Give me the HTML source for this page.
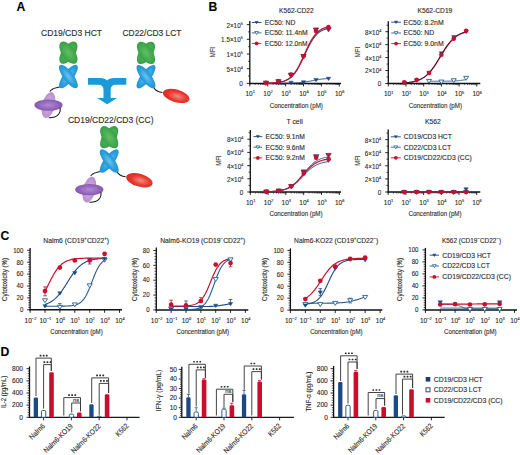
<!DOCTYPE html>
<html><head><meta charset="utf-8"><style>
html,body{margin:0;padding:0;background:#fff;width:520px;height:455px;overflow:hidden}
svg{display:block}
text{font-family:"Liberation Sans",sans-serif;stroke:#2b2b2b;stroke-width:0.12px}
</style></head><body>
<svg width="520" height="455" viewBox="0 0 520 455" font-family="&quot;Liberation Sans&quot;, sans-serif" fill="#2b2b2b">
<defs><radialGradient id="gG" cx="50%" cy="50%" r="60%"><stop offset="0" stop-color="#62bf62"/><stop offset="0.7" stop-color="#3fa64c"/><stop offset="1" stop-color="#2c8a3c"/></radialGradient><radialGradient id="gB" cx="50%" cy="50%" r="60%"><stop offset="0" stop-color="#6cc3ef"/><stop offset="0.6" stop-color="#2a9fdc"/><stop offset="1" stop-color="#1b8ccc"/></radialGradient><radialGradient id="gP" cx="50%" cy="50%" r="60%"><stop offset="0" stop-color="#b08bd0"/><stop offset="0.7" stop-color="#8c5fb6"/><stop offset="1" stop-color="#7a4ea6"/></radialGradient><radialGradient id="gP2" cx="50%" cy="50%" r="60%"><stop offset="0" stop-color="#d6b4e4"/><stop offset="1" stop-color="#b486cc"/></radialGradient><radialGradient id="gR" cx="55%" cy="50%" r="60%"><stop offset="0" stop-color="#f58a80"/><stop offset="0.6" stop-color="#e8352c"/><stop offset="1" stop-color="#d42a22"/></radialGradient></defs>
<rect width="520" height="455" fill="#fff"/>
<text x="16.40" y="11.00" font-size="12.2" fill="#000" font-weight="bold">A</text>
<text x="208.40" y="10.90" font-size="12.2" fill="#000" font-weight="bold">B</text>
<text x="0.50" y="239.60" font-size="12.2" fill="#000" font-weight="bold">C</text>
<text x="0.60" y="356.40" font-size="12.2" fill="#000" font-weight="bold">D</text>
<text x="71.50" y="36.00" font-size="8.4" text-anchor="middle" textLength="61.00" lengthAdjust="spacingAndGlyphs">CD19/CD3 HCT</text>
<text x="152.00" y="36.00" font-size="8.4" text-anchor="middle" textLength="59.00" lengthAdjust="spacingAndGlyphs">CD22/CD3 LCT</text>
<text x="110.70" y="122.60" font-size="8.4" text-anchor="middle" textLength="85.60" lengthAdjust="spacingAndGlyphs">CD19/CD22/CD3 (CC)</text>
<path d="M60.00,86.70 C56.40,88.30 52.40,87.50 49.90,91.50" stroke="#1a1a1a" stroke-width="1.05" fill="none" />
<ellipse cx="68.40" cy="52.70" rx="6.5" ry="12.8" fill="url(#gG)" transform="rotate(35 68.40 52.70)"/>
<ellipse cx="68.40" cy="52.70" rx="6.5" ry="12.8" fill="url(#gG)" transform="rotate(-35 68.40 52.70)"/>
<ellipse cx="68.40" cy="76.50" rx="5.0" ry="14.2" fill="url(#gB)" transform="rotate(37 68.40 76.50)"/>
<ellipse cx="68.40" cy="76.50" rx="5.0" ry="14.2" fill="url(#gB)" transform="rotate(-37 68.40 76.50)"/>
<ellipse cx="48.50" cy="105.10" rx="6.4" ry="13.2" fill="url(#gP2)" transform="rotate(14 48.50 105.10)"/>
<ellipse cx="48.50" cy="105.10" rx="14.1" ry="5.7" fill="url(#gP)"/>
<path d="M60.10,107.60 C61.00,113.10 57.50,118.10 48.70,117.70" stroke="#1a1a1a" stroke-width="1.05" fill="none" />
<path d="M153.60,87.30 C155.50,90.70 158.00,92.30 162.50,92.50" stroke="#1a1a1a" stroke-width="1.05" fill="none" />
<ellipse cx="146.00" cy="52.90" rx="6.5" ry="12.8" fill="url(#gG)" transform="rotate(35 146.00 52.90)"/>
<ellipse cx="146.00" cy="52.90" rx="6.5" ry="12.8" fill="url(#gG)" transform="rotate(-35 146.00 52.90)"/>
<ellipse cx="146.00" cy="76.70" rx="5.0" ry="14.2" fill="url(#gB)" transform="rotate(37 146.00 76.70)"/>
<ellipse cx="146.00" cy="76.70" rx="5.0" ry="14.2" fill="url(#gB)" transform="rotate(-37 146.00 76.70)"/>
<ellipse cx="176.20" cy="95.90" rx="13.6" ry="6.4" fill="url(#gR)" transform="rotate(16 176.20 95.90)"/>
<path d="M100.80,171.20 C97.20,172.80 93.20,172.00 90.70,176.00" stroke="#1a1a1a" stroke-width="1.05" fill="none" />
<path d="M116.80,171.60 C118.70,175.00 121.20,176.60 125.70,176.80" stroke="#1a1a1a" stroke-width="1.05" fill="none" />
<ellipse cx="109.20" cy="137.20" rx="6.5" ry="12.8" fill="url(#gG)" transform="rotate(35 109.20 137.20)"/>
<ellipse cx="109.20" cy="137.20" rx="6.5" ry="12.8" fill="url(#gG)" transform="rotate(-35 109.20 137.20)"/>
<ellipse cx="109.20" cy="161.00" rx="5.0" ry="14.2" fill="url(#gB)" transform="rotate(37 109.20 161.00)"/>
<ellipse cx="109.20" cy="161.00" rx="5.0" ry="14.2" fill="url(#gB)" transform="rotate(-37 109.20 161.00)"/>
<ellipse cx="89.30" cy="189.60" rx="6.4" ry="13.2" fill="url(#gP2)" transform="rotate(14 89.30 189.60)"/>
<ellipse cx="89.30" cy="189.60" rx="14.1" ry="5.7" fill="url(#gP)"/>
<path d="M100.90,192.10 C101.80,197.60 98.30,202.60 89.50,202.20" stroke="#1a1a1a" stroke-width="1.05" fill="none" />
<ellipse cx="139.40" cy="180.20" rx="13.6" ry="6.4" fill="url(#gR)" transform="rotate(16 139.40 180.20)"/>
<path d="M88,77.9 L100,77.9 C103.5,77.9 106,78.8 107.1,80.6 C108.2,78.8 110.7,77.9 114.2,77.9 L126.3,77.9 L126.3,84.7 L116,84.7 C112.5,84.7 110.7,86.5 110.7,90 L110.7,98 L117.1,98 L107.1,104.3 L97.1,98 L103.5,98 L103.5,90 C103.5,86.5 101.7,84.7 98.2,84.7 L88,84.7 Z" stroke="none" stroke-width="0" fill="#1a9ad6" />
<line x1="249.80" y1="21.00" x2="249.80" y2="83.90" stroke="#111" stroke-width="1.3"/>
<line x1="249.20" y1="83.40" x2="341.00" y2="83.40" stroke="#111" stroke-width="1.5"/>
<line x1="246.80" y1="83.40" x2="249.80" y2="83.40" stroke="#111" stroke-width="0.9"/>
<line x1="246.80" y1="68.70" x2="249.80" y2="68.70" stroke="#111" stroke-width="0.9"/>
<line x1="246.80" y1="54.00" x2="249.80" y2="54.00" stroke="#111" stroke-width="0.9"/>
<line x1="246.80" y1="39.30" x2="249.80" y2="39.30" stroke="#111" stroke-width="0.9"/>
<line x1="246.80" y1="24.60" x2="249.80" y2="24.60" stroke="#111" stroke-width="0.9"/>
<line x1="248.00" y1="76.05" x2="249.80" y2="76.05" stroke="#111" stroke-width="0.7"/>
<line x1="248.00" y1="61.35" x2="249.80" y2="61.35" stroke="#111" stroke-width="0.7"/>
<line x1="248.00" y1="46.65" x2="249.80" y2="46.65" stroke="#111" stroke-width="0.7"/>
<line x1="248.00" y1="31.95" x2="249.80" y2="31.95" stroke="#111" stroke-width="0.7"/>
<line x1="249.80" y1="83.40" x2="249.80" y2="86.40" stroke="#111" stroke-width="0.9"/>
<line x1="255.19" y1="83.40" x2="255.19" y2="85.00" stroke="#111" stroke-width="0.6"/>
<line x1="258.34" y1="83.40" x2="258.34" y2="85.00" stroke="#111" stroke-width="0.6"/>
<line x1="260.58" y1="83.40" x2="260.58" y2="85.00" stroke="#111" stroke-width="0.6"/>
<line x1="262.31" y1="83.40" x2="262.31" y2="85.00" stroke="#111" stroke-width="0.6"/>
<line x1="263.73" y1="83.40" x2="263.73" y2="85.00" stroke="#111" stroke-width="0.6"/>
<line x1="264.93" y1="83.40" x2="264.93" y2="85.00" stroke="#111" stroke-width="0.6"/>
<line x1="265.97" y1="83.40" x2="265.97" y2="85.00" stroke="#111" stroke-width="0.6"/>
<line x1="266.88" y1="83.40" x2="266.88" y2="85.00" stroke="#111" stroke-width="0.6"/>
<line x1="267.70" y1="83.40" x2="267.70" y2="86.40" stroke="#111" stroke-width="0.9"/>
<line x1="273.09" y1="83.40" x2="273.09" y2="85.00" stroke="#111" stroke-width="0.6"/>
<line x1="276.24" y1="83.40" x2="276.24" y2="85.00" stroke="#111" stroke-width="0.6"/>
<line x1="278.48" y1="83.40" x2="278.48" y2="85.00" stroke="#111" stroke-width="0.6"/>
<line x1="280.21" y1="83.40" x2="280.21" y2="85.00" stroke="#111" stroke-width="0.6"/>
<line x1="281.63" y1="83.40" x2="281.63" y2="85.00" stroke="#111" stroke-width="0.6"/>
<line x1="282.83" y1="83.40" x2="282.83" y2="85.00" stroke="#111" stroke-width="0.6"/>
<line x1="283.87" y1="83.40" x2="283.87" y2="85.00" stroke="#111" stroke-width="0.6"/>
<line x1="284.78" y1="83.40" x2="284.78" y2="85.00" stroke="#111" stroke-width="0.6"/>
<line x1="285.60" y1="83.40" x2="285.60" y2="86.40" stroke="#111" stroke-width="0.9"/>
<line x1="290.99" y1="83.40" x2="290.99" y2="85.00" stroke="#111" stroke-width="0.6"/>
<line x1="294.14" y1="83.40" x2="294.14" y2="85.00" stroke="#111" stroke-width="0.6"/>
<line x1="296.38" y1="83.40" x2="296.38" y2="85.00" stroke="#111" stroke-width="0.6"/>
<line x1="298.11" y1="83.40" x2="298.11" y2="85.00" stroke="#111" stroke-width="0.6"/>
<line x1="299.53" y1="83.40" x2="299.53" y2="85.00" stroke="#111" stroke-width="0.6"/>
<line x1="300.73" y1="83.40" x2="300.73" y2="85.00" stroke="#111" stroke-width="0.6"/>
<line x1="301.77" y1="83.40" x2="301.77" y2="85.00" stroke="#111" stroke-width="0.6"/>
<line x1="302.68" y1="83.40" x2="302.68" y2="85.00" stroke="#111" stroke-width="0.6"/>
<line x1="303.50" y1="83.40" x2="303.50" y2="86.40" stroke="#111" stroke-width="0.9"/>
<line x1="308.89" y1="83.40" x2="308.89" y2="85.00" stroke="#111" stroke-width="0.6"/>
<line x1="312.04" y1="83.40" x2="312.04" y2="85.00" stroke="#111" stroke-width="0.6"/>
<line x1="314.28" y1="83.40" x2="314.28" y2="85.00" stroke="#111" stroke-width="0.6"/>
<line x1="316.01" y1="83.40" x2="316.01" y2="85.00" stroke="#111" stroke-width="0.6"/>
<line x1="317.43" y1="83.40" x2="317.43" y2="85.00" stroke="#111" stroke-width="0.6"/>
<line x1="318.63" y1="83.40" x2="318.63" y2="85.00" stroke="#111" stroke-width="0.6"/>
<line x1="319.67" y1="83.40" x2="319.67" y2="85.00" stroke="#111" stroke-width="0.6"/>
<line x1="320.58" y1="83.40" x2="320.58" y2="85.00" stroke="#111" stroke-width="0.6"/>
<line x1="321.40" y1="83.40" x2="321.40" y2="86.40" stroke="#111" stroke-width="0.9"/>
<line x1="326.79" y1="83.40" x2="326.79" y2="85.00" stroke="#111" stroke-width="0.6"/>
<line x1="329.94" y1="83.40" x2="329.94" y2="85.00" stroke="#111" stroke-width="0.6"/>
<line x1="332.18" y1="83.40" x2="332.18" y2="85.00" stroke="#111" stroke-width="0.6"/>
<line x1="333.91" y1="83.40" x2="333.91" y2="85.00" stroke="#111" stroke-width="0.6"/>
<line x1="335.33" y1="83.40" x2="335.33" y2="85.00" stroke="#111" stroke-width="0.6"/>
<line x1="336.53" y1="83.40" x2="336.53" y2="85.00" stroke="#111" stroke-width="0.6"/>
<line x1="337.57" y1="83.40" x2="337.57" y2="85.00" stroke="#111" stroke-width="0.6"/>
<line x1="338.48" y1="83.40" x2="338.48" y2="85.00" stroke="#111" stroke-width="0.6"/>
<line x1="339.30" y1="83.40" x2="339.30" y2="86.40" stroke="#111" stroke-width="0.9"/>
<text x="296.40" y="12.80" font-size="6.8" text-anchor="middle" textLength="34.60" lengthAdjust="spacingAndGlyphs">K562-CD22</text>
<text transform="translate(214.80 52.20) rotate(-90)" font-size="7.2" text-anchor="middle" textLength="10.30" lengthAdjust="spacingAndGlyphs">MFI</text>
<text transform="translate(242.80 86.30) scale(0.87 1)" font-size="7.3" text-anchor="end">0</text>
<text transform="translate(242.80 71.60) scale(0.87 1)" font-size="7.3" text-anchor="end">5×10<tspan font-size="4.40" dy="-2.90">4</tspan></text>
<text transform="translate(242.80 56.90) scale(0.87 1)" font-size="7.3" text-anchor="end">1×10<tspan font-size="4.40" dy="-2.90">5</tspan></text>
<text transform="translate(242.80 42.20) scale(0.87 1)" font-size="7.3" text-anchor="end">1.5×10<tspan font-size="4.40" dy="-2.90">5</tspan></text>
<text transform="translate(242.80 27.50) scale(0.87 1)" font-size="7.3" text-anchor="end">2×10<tspan font-size="4.40" dy="-2.90">5</tspan></text>
<text transform="translate(250.20 96.00) scale(0.93 1)" font-size="7.0" text-anchor="middle">10<tspan font-size="4.30" dy="-2.60">1</tspan></text>
<text transform="translate(268.10 96.00) scale(0.93 1)" font-size="7.0" text-anchor="middle">10<tspan font-size="4.30" dy="-2.60">2</tspan></text>
<text transform="translate(286.00 96.00) scale(0.93 1)" font-size="7.0" text-anchor="middle">10<tspan font-size="4.30" dy="-2.60">3</tspan></text>
<text transform="translate(303.90 96.00) scale(0.93 1)" font-size="7.0" text-anchor="middle">10<tspan font-size="4.30" dy="-2.60">4</tspan></text>
<text transform="translate(321.80 96.00) scale(0.93 1)" font-size="7.0" text-anchor="middle">10<tspan font-size="4.30" dy="-2.60">5</tspan></text>
<text transform="translate(339.70 96.00) scale(0.93 1)" font-size="7.0" text-anchor="middle">10<tspan font-size="4.30" dy="-2.60">6</tspan></text>
<text x="296.30" y="107.80" font-size="7.7" text-anchor="middle" textLength="53.20" lengthAdjust="spacingAndGlyphs">Concentration (pM)</text>
<polyline points="278.48,83.23 279.10,83.22 279.73,83.22 280.35,83.22 280.98,83.21 281.60,83.21 282.23,83.20 282.86,83.20 283.48,83.19 284.11,83.19 284.73,83.18 285.36,83.18 285.98,83.17 286.61,83.16 287.23,83.15 287.86,83.14 288.49,83.13 289.11,83.12 289.74,83.10 290.36,83.09 290.99,83.07 291.61,83.05 292.24,83.04 292.86,83.01 293.49,82.99 294.12,82.97 294.74,82.94 295.37,82.91 295.99,82.88 296.62,82.84 297.24,82.80 297.87,82.76 298.50,82.72 299.12,82.67 299.75,82.62 300.37,82.56 301.00,82.50 301.62,82.44 302.25,82.37 302.87,82.30 303.50,82.22 304.13,82.14 304.75,82.05 305.38,81.96 306.00,81.86 306.63,81.76 307.25,81.66 307.88,81.55 308.50,81.44 309.13,81.33 309.76,81.21 310.38,81.09 311.01,80.97 311.63,80.84 312.26,80.72 312.88,80.59 313.51,80.47 314.14,80.35 314.76,80.23 315.39,80.11 316.01,79.99 316.64,79.88 317.26,79.77 317.89,79.66 318.51,79.56 319.14,79.46 319.77,79.36 320.39,79.28 321.02,79.19 321.64,79.11 322.27,79.03 322.89,78.96 323.52,78.90 324.14,78.83 324.77,78.78 325.40,78.72 326.02,78.67 326.65,78.63 327.27,78.58 327.90,78.54 328.52,78.51" fill="none" stroke="#1b4a86" stroke-width="1.0" stroke-linejoin="round"/>
<polyline points="265.96,83.25 266.75,83.24 267.53,83.22 268.31,83.19 269.09,83.16 269.87,83.13 270.66,83.10 271.44,83.06 272.22,83.02 273.00,82.97 273.78,82.92 274.57,82.86 275.35,82.79 276.13,82.71 276.91,82.62 277.69,82.52 278.48,82.41 279.26,82.29 280.04,82.15 280.82,81.99 281.60,81.82 282.39,81.62 283.17,81.40 283.95,81.15 284.73,80.88 285.51,80.57 286.30,80.23 287.08,79.85 287.86,79.42 288.64,78.95 289.42,78.43 290.21,77.86 290.99,77.23 291.77,76.53 292.55,75.77 293.33,74.94 294.12,74.03 294.90,73.05 295.68,71.99 296.46,70.85 297.24,69.63 298.03,68.34 298.81,66.97 299.59,65.53 300.37,64.02 301.15,62.46 301.94,60.84 302.72,59.19 303.50,57.51 304.28,55.81 305.06,54.11 305.85,52.41 306.63,50.74 307.41,49.09 308.19,47.49 308.97,45.94 309.76,44.45 310.54,43.03 311.32,41.68 312.10,40.40 312.88,39.21 313.67,38.09 314.45,37.05 315.23,36.09 316.01,35.20 316.79,34.38 317.58,33.64 318.36,32.96 319.14,32.34 319.92,31.78 320.70,31.27 321.49,30.82 322.27,30.40 323.05,30.03 323.83,29.70 324.61,29.40 325.40,29.13 326.18,28.89 326.96,28.68 327.74,28.49 328.52,28.32" fill="none" stroke="#265d92" stroke-width="1.1" stroke-linejoin="round"/>
<polyline points="265.96,83.25 266.75,83.23 267.53,83.21 268.31,83.18 269.09,83.15 269.87,83.12 270.66,83.08 271.44,83.04 272.22,83.00 273.00,82.95 273.78,82.89 274.57,82.83 275.35,82.75 276.13,82.67 276.91,82.58 277.69,82.48 278.48,82.36 279.26,82.23 280.04,82.08 280.82,81.92 281.60,81.73 282.39,81.52 283.17,81.29 283.95,81.03 284.73,80.74 285.51,80.42 286.30,80.06 287.08,79.66 287.86,79.21 288.64,78.72 289.42,78.17 290.21,77.57 290.99,76.91 291.77,76.18 292.55,75.38 293.33,74.51 294.12,73.56 294.90,72.54 295.68,71.43 296.46,70.24 297.24,68.98 298.03,67.63 298.81,66.21 299.59,64.71 300.37,63.15 301.15,61.54 301.94,59.87 302.72,58.17 303.50,56.44 304.28,54.69 305.06,52.95 305.85,51.21 306.63,49.50 307.41,47.82 308.19,46.19 308.97,44.61 309.76,43.10 310.54,41.65 311.32,40.29 312.10,39.00 312.88,37.78 313.67,36.66 314.45,35.61 315.23,34.64 316.01,33.75 316.79,32.93 317.58,32.18 318.36,31.50 319.14,30.88 319.92,30.31 320.70,29.80 321.49,29.35 322.27,28.93 323.05,28.56 323.83,28.23 324.61,27.93 325.40,27.66 326.18,27.42 326.96,27.21 327.74,27.02 328.52,26.85" fill="none" stroke="#c8102e" stroke-width="1.3" stroke-linejoin="round"/>
<path d="M276.28,81.79 L280.68,81.79 L278.48,85.20 Z" fill="#1b4a86" stroke="#1b4a86" stroke-width="0.5" stroke-linejoin="round"/>
<path d="M288.79,81.20 L293.19,81.20 L290.99,84.61 Z" fill="#1b4a86" stroke="#1b4a86" stroke-width="0.5" stroke-linejoin="round"/>
<path d="M301.30,80.79 L305.70,80.79 L303.50,84.20 Z" fill="#1b4a86" stroke="#1b4a86" stroke-width="0.5" stroke-linejoin="round"/>
<path d="M313.81,78.38 L318.21,78.38 L316.01,81.79 Z" fill="#1b4a86" stroke="#1b4a86" stroke-width="0.5" stroke-linejoin="round"/>
<path d="M326.32,77.17 L330.72,77.17 L328.52,80.58 Z" fill="#1b4a86" stroke="#1b4a86" stroke-width="0.5" stroke-linejoin="round"/>
<path d="M263.26,81.19 L268.66,81.19 L265.96,85.38 Z" fill="#c8102e" stroke="#3a3f6a" stroke-width="0.8" stroke-linejoin="round"/>
<path d="M275.78,79.72 L281.18,79.72 L278.48,83.91 Z" fill="#c8102e" stroke="#3a3f6a" stroke-width="0.8" stroke-linejoin="round"/>
<path d="M288.29,73.25 L293.69,73.25 L290.99,77.44 Z" fill="#c8102e" stroke="#3a3f6a" stroke-width="0.8" stroke-linejoin="round"/>
<path d="M300.80,54.44 L306.20,54.44 L303.50,58.62 Z" fill="#c8102e" stroke="#3a3f6a" stroke-width="0.8" stroke-linejoin="round"/>
<path d="M313.31,27.98 L318.71,27.98 L316.01,32.16 Z" fill="#c8102e" stroke="#3a3f6a" stroke-width="0.8" stroke-linejoin="round"/>
<path d="M325.82,27.68 L331.22,27.68 L328.52,31.87 Z" fill="#c8102e" stroke="#3a3f6a" stroke-width="0.8" stroke-linejoin="round"/>
<circle cx="265.96" cy="82.81" r="2.3" fill="#c8102e"/>
<circle cx="278.48" cy="81.05" r="2.3" fill="#c8102e"/>
<circle cx="290.99" cy="74.58" r="2.3" fill="#c8102e"/>
<circle cx="303.50" cy="56.35" r="2.3" fill="#c8102e"/>
<circle cx="316.01" cy="31.07" r="2.3" fill="#c8102e"/>
<circle cx="328.52" cy="26.95" r="2.3" fill="#c8102e"/>
<line x1="251.80" y1="22.50" x2="261.40" y2="22.50" stroke="#1b4a86" stroke-width="0.9"/>
<path d="M255.00,21.34 L258.20,21.34 L256.60,23.82 Z" fill="#1b4a86" stroke="#1b4a86" stroke-width="0.5" stroke-linejoin="round"/>
<text x="264.80" y="24.85" font-size="6.7" textLength="30.50" lengthAdjust="spacingAndGlyphs">EC50: ND</text>
<line x1="251.80" y1="32.90" x2="261.40" y2="32.90" stroke="#265d92" stroke-width="0.9"/>
<path d="M254.70,31.56 L258.50,31.56 L256.60,34.50 Z" fill="#fff" stroke="#265d92" stroke-width="0.8" stroke-linejoin="round"/>
<text x="264.80" y="35.25" font-size="6.7" textLength="43.00" lengthAdjust="spacingAndGlyphs">EC50: 11.4nM</text>
<line x1="251.80" y1="43.40" x2="261.40" y2="43.40" stroke="#c8102e" stroke-width="0.9"/>
<circle cx="256.60" cy="43.40" r="1.9" fill="#c8102e"/>
<text x="264.80" y="45.75" font-size="6.7" textLength="42.70" lengthAdjust="spacingAndGlyphs">EC50: 12.0nM</text>
<line x1="388.30" y1="21.20" x2="388.30" y2="84.00" stroke="#111" stroke-width="1.3"/>
<line x1="387.70" y1="83.50" x2="480.30" y2="83.50" stroke="#111" stroke-width="1.5"/>
<line x1="385.30" y1="83.50" x2="388.30" y2="83.50" stroke="#111" stroke-width="0.9"/>
<line x1="385.30" y1="70.55" x2="388.30" y2="70.55" stroke="#111" stroke-width="0.9"/>
<line x1="385.30" y1="57.60" x2="388.30" y2="57.60" stroke="#111" stroke-width="0.9"/>
<line x1="385.30" y1="44.65" x2="388.30" y2="44.65" stroke="#111" stroke-width="0.9"/>
<line x1="385.30" y1="31.70" x2="388.30" y2="31.70" stroke="#111" stroke-width="0.9"/>
<line x1="386.50" y1="77.03" x2="388.30" y2="77.03" stroke="#111" stroke-width="0.7"/>
<line x1="386.50" y1="64.08" x2="388.30" y2="64.08" stroke="#111" stroke-width="0.7"/>
<line x1="386.50" y1="51.12" x2="388.30" y2="51.12" stroke="#111" stroke-width="0.7"/>
<line x1="386.50" y1="38.18" x2="388.30" y2="38.18" stroke="#111" stroke-width="0.7"/>
<line x1="386.50" y1="25.23" x2="388.30" y2="25.23" stroke="#111" stroke-width="0.7"/>
<line x1="388.30" y1="83.50" x2="388.30" y2="86.50" stroke="#111" stroke-width="0.9"/>
<line x1="393.63" y1="83.50" x2="393.63" y2="85.10" stroke="#111" stroke-width="0.6"/>
<line x1="396.75" y1="83.50" x2="396.75" y2="85.10" stroke="#111" stroke-width="0.6"/>
<line x1="398.96" y1="83.50" x2="398.96" y2="85.10" stroke="#111" stroke-width="0.6"/>
<line x1="400.67" y1="83.50" x2="400.67" y2="85.10" stroke="#111" stroke-width="0.6"/>
<line x1="402.07" y1="83.50" x2="402.07" y2="85.10" stroke="#111" stroke-width="0.6"/>
<line x1="403.26" y1="83.50" x2="403.26" y2="85.10" stroke="#111" stroke-width="0.6"/>
<line x1="404.28" y1="83.50" x2="404.28" y2="85.10" stroke="#111" stroke-width="0.6"/>
<line x1="405.19" y1="83.50" x2="405.19" y2="85.10" stroke="#111" stroke-width="0.6"/>
<line x1="406.00" y1="83.50" x2="406.00" y2="86.50" stroke="#111" stroke-width="0.9"/>
<line x1="411.33" y1="83.50" x2="411.33" y2="85.10" stroke="#111" stroke-width="0.6"/>
<line x1="414.45" y1="83.50" x2="414.45" y2="85.10" stroke="#111" stroke-width="0.6"/>
<line x1="416.66" y1="83.50" x2="416.66" y2="85.10" stroke="#111" stroke-width="0.6"/>
<line x1="418.37" y1="83.50" x2="418.37" y2="85.10" stroke="#111" stroke-width="0.6"/>
<line x1="419.77" y1="83.50" x2="419.77" y2="85.10" stroke="#111" stroke-width="0.6"/>
<line x1="420.96" y1="83.50" x2="420.96" y2="85.10" stroke="#111" stroke-width="0.6"/>
<line x1="421.98" y1="83.50" x2="421.98" y2="85.10" stroke="#111" stroke-width="0.6"/>
<line x1="422.89" y1="83.50" x2="422.89" y2="85.10" stroke="#111" stroke-width="0.6"/>
<line x1="423.70" y1="83.50" x2="423.70" y2="86.50" stroke="#111" stroke-width="0.9"/>
<line x1="429.03" y1="83.50" x2="429.03" y2="85.10" stroke="#111" stroke-width="0.6"/>
<line x1="432.15" y1="83.50" x2="432.15" y2="85.10" stroke="#111" stroke-width="0.6"/>
<line x1="434.36" y1="83.50" x2="434.36" y2="85.10" stroke="#111" stroke-width="0.6"/>
<line x1="436.07" y1="83.50" x2="436.07" y2="85.10" stroke="#111" stroke-width="0.6"/>
<line x1="437.47" y1="83.50" x2="437.47" y2="85.10" stroke="#111" stroke-width="0.6"/>
<line x1="438.66" y1="83.50" x2="438.66" y2="85.10" stroke="#111" stroke-width="0.6"/>
<line x1="439.68" y1="83.50" x2="439.68" y2="85.10" stroke="#111" stroke-width="0.6"/>
<line x1="440.59" y1="83.50" x2="440.59" y2="85.10" stroke="#111" stroke-width="0.6"/>
<line x1="441.40" y1="83.50" x2="441.40" y2="86.50" stroke="#111" stroke-width="0.9"/>
<line x1="446.73" y1="83.50" x2="446.73" y2="85.10" stroke="#111" stroke-width="0.6"/>
<line x1="449.85" y1="83.50" x2="449.85" y2="85.10" stroke="#111" stroke-width="0.6"/>
<line x1="452.06" y1="83.50" x2="452.06" y2="85.10" stroke="#111" stroke-width="0.6"/>
<line x1="453.77" y1="83.50" x2="453.77" y2="85.10" stroke="#111" stroke-width="0.6"/>
<line x1="455.17" y1="83.50" x2="455.17" y2="85.10" stroke="#111" stroke-width="0.6"/>
<line x1="456.36" y1="83.50" x2="456.36" y2="85.10" stroke="#111" stroke-width="0.6"/>
<line x1="457.38" y1="83.50" x2="457.38" y2="85.10" stroke="#111" stroke-width="0.6"/>
<line x1="458.29" y1="83.50" x2="458.29" y2="85.10" stroke="#111" stroke-width="0.6"/>
<line x1="459.10" y1="83.50" x2="459.10" y2="86.50" stroke="#111" stroke-width="0.9"/>
<line x1="464.43" y1="83.50" x2="464.43" y2="85.10" stroke="#111" stroke-width="0.6"/>
<line x1="467.55" y1="83.50" x2="467.55" y2="85.10" stroke="#111" stroke-width="0.6"/>
<line x1="469.76" y1="83.50" x2="469.76" y2="85.10" stroke="#111" stroke-width="0.6"/>
<line x1="471.47" y1="83.50" x2="471.47" y2="85.10" stroke="#111" stroke-width="0.6"/>
<line x1="472.87" y1="83.50" x2="472.87" y2="85.10" stroke="#111" stroke-width="0.6"/>
<line x1="474.06" y1="83.50" x2="474.06" y2="85.10" stroke="#111" stroke-width="0.6"/>
<line x1="475.08" y1="83.50" x2="475.08" y2="85.10" stroke="#111" stroke-width="0.6"/>
<line x1="475.99" y1="83.50" x2="475.99" y2="85.10" stroke="#111" stroke-width="0.6"/>
<line x1="476.80" y1="83.50" x2="476.80" y2="86.50" stroke="#111" stroke-width="0.9"/>
<text x="434.90" y="12.80" font-size="6.8" text-anchor="middle" textLength="34.80" lengthAdjust="spacingAndGlyphs">K562-CD19</text>
<text transform="translate(359.50 52.00) rotate(-90)" font-size="7.2" text-anchor="middle" textLength="10.30" lengthAdjust="spacingAndGlyphs">MFI</text>
<text transform="translate(381.30 86.40) scale(0.87 1)" font-size="7.3" text-anchor="end">0</text>
<text transform="translate(381.30 73.45) scale(0.87 1)" font-size="7.3" text-anchor="end">2×10<tspan font-size="4.40" dy="-2.90">4</tspan></text>
<text transform="translate(381.30 60.50) scale(0.87 1)" font-size="7.3" text-anchor="end">4×10<tspan font-size="4.40" dy="-2.90">4</tspan></text>
<text transform="translate(381.30 47.55) scale(0.87 1)" font-size="7.3" text-anchor="end">6×10<tspan font-size="4.40" dy="-2.90">4</tspan></text>
<text transform="translate(381.30 34.60) scale(0.87 1)" font-size="7.3" text-anchor="end">8×10<tspan font-size="4.40" dy="-2.90">4</tspan></text>
<text transform="translate(388.70 96.10) scale(0.93 1)" font-size="7.0" text-anchor="middle">10<tspan font-size="4.30" dy="-2.60">1</tspan></text>
<text transform="translate(406.40 96.10) scale(0.93 1)" font-size="7.0" text-anchor="middle">10<tspan font-size="4.30" dy="-2.60">2</tspan></text>
<text transform="translate(424.10 96.10) scale(0.93 1)" font-size="7.0" text-anchor="middle">10<tspan font-size="4.30" dy="-2.60">3</tspan></text>
<text transform="translate(441.80 96.10) scale(0.93 1)" font-size="7.0" text-anchor="middle">10<tspan font-size="4.30" dy="-2.60">4</tspan></text>
<text transform="translate(459.50 96.10) scale(0.93 1)" font-size="7.0" text-anchor="middle">10<tspan font-size="4.30" dy="-2.60">5</tspan></text>
<text transform="translate(477.20 96.10) scale(0.93 1)" font-size="7.0" text-anchor="middle">10<tspan font-size="4.30" dy="-2.60">6</tspan></text>
<text x="435.40" y="107.90" font-size="7.7" text-anchor="middle" textLength="53.20" lengthAdjust="spacingAndGlyphs">Concentration (pM)</text>
<polyline points="429.03,81.23 429.49,81.23 429.96,81.23 430.42,81.23 430.88,81.23 431.35,81.23 431.81,81.23 432.28,81.23 432.74,81.23 433.20,81.23 433.67,81.23 434.13,81.23 434.60,81.23 435.06,81.23 435.52,81.23 435.99,81.22 436.45,81.22 436.92,81.22 437.38,81.22 437.84,81.22 438.31,81.22 438.77,81.22 439.23,81.22 439.70,81.22 440.16,81.21 440.63,81.21 441.09,81.21 441.55,81.21 442.02,81.20 442.48,81.20 442.95,81.20 443.41,81.20 443.87,81.19 444.34,81.19 444.80,81.18 445.27,81.18 445.73,81.17 446.19,81.17 446.66,81.16 447.12,81.16 447.59,81.15 448.05,81.14 448.51,81.13 448.98,81.12 449.44,81.11 449.91,81.10 450.37,81.09 450.83,81.08 451.30,81.07 451.76,81.05 452.23,81.03 452.69,81.02 453.15,81.00 453.62,80.98 454.08,80.95 454.55,80.93 455.01,80.90 455.47,80.88 455.94,80.85 456.40,80.82 456.87,80.78 457.33,80.75 457.79,80.71 458.26,80.67 458.72,80.62 459.19,80.58 459.65,80.53 460.11,80.48 460.58,80.42 461.04,80.36 461.50,80.31 461.97,80.25 462.43,80.18 462.90,80.12 463.36,80.05 463.82,79.98 464.29,79.91 464.75,79.84 465.22,79.77 465.68,79.69 466.14,79.62" fill="none" stroke="#265d92" stroke-width="1.0" stroke-linejoin="round"/>
<polyline points="404.28,82.90 405.06,82.84 405.83,82.77 406.60,82.70 407.38,82.62 408.15,82.53 408.92,82.44 409.70,82.33 410.47,82.22 411.24,82.09 412.02,81.96 412.79,81.81 413.56,81.64 414.34,81.47 415.11,81.27 415.88,81.06 416.66,80.82 417.43,80.57 418.20,80.29 418.98,79.99 419.75,79.67 420.52,79.31 421.30,78.93 422.07,78.51 422.84,78.06 423.61,77.58 424.39,77.05 425.16,76.49 425.93,75.89 426.71,75.24 427.48,74.55 428.25,73.82 429.03,73.04 429.80,72.21 430.57,71.33 431.35,70.41 432.12,69.44 432.89,68.42 433.67,67.37 434.44,66.27 435.21,65.13 435.99,63.96 436.76,62.75 437.53,61.52 438.31,60.27 439.08,59.00 439.85,57.73 440.63,56.44 441.40,55.16 442.17,53.88 442.95,52.62 443.72,51.38 444.49,50.15 445.27,48.96 446.04,47.80 446.81,46.67 447.59,45.58 448.36,44.54 449.13,43.53 449.91,42.58 450.68,41.67 451.45,40.81 452.23,39.99 453.00,39.22 453.77,38.50 454.55,37.82 455.32,37.19 456.09,36.60 456.87,36.05 457.64,35.54 458.41,35.06 459.19,34.62 459.96,34.22 460.73,33.84 461.50,33.49 462.28,33.17 463.05,32.88 463.82,32.61 464.60,32.36 465.37,32.14 466.14,31.93" fill="none" stroke="#c8102e" stroke-width="1.2" stroke-linejoin="round"/>
<polyline points="404.28,82.92 405.06,82.86 405.83,82.79 406.60,82.72 407.38,82.64 408.15,82.56 408.92,82.46 409.70,82.36 410.47,82.24 411.24,82.12 412.02,81.98 412.79,81.83 413.56,81.66 414.34,81.48 415.11,81.28 415.88,81.06 416.66,80.83 417.43,80.57 418.20,80.29 418.98,79.98 419.75,79.64 420.52,79.28 421.30,78.88 422.07,78.46 422.84,77.99 423.61,77.49 424.39,76.95 425.16,76.37 425.93,75.74 426.71,75.07 427.48,74.36 428.25,73.60 429.03,72.78 429.80,71.92 430.57,71.01 431.35,70.06 432.12,69.05 432.89,68.00 433.67,66.91 434.44,65.77 435.21,64.59 435.99,63.39 436.76,62.15 437.53,60.89 438.31,59.61 439.08,58.31 439.85,57.01 440.63,55.71 441.40,54.41 442.17,53.12 442.95,51.86 443.72,50.61 444.49,49.39 445.27,48.20 446.04,47.05 446.81,45.95 447.59,44.88 448.36,43.86 449.13,42.88 449.91,41.96 450.68,41.08 451.45,40.25 452.23,39.47 453.00,38.74 453.77,38.06 454.55,37.42 455.32,36.82 456.09,36.27 456.87,35.75 457.64,35.28 458.41,34.84 459.19,34.43 459.96,34.06 460.73,33.71 461.50,33.40 462.28,33.11 463.05,32.84 463.82,32.59 464.60,32.37 465.37,32.17 466.14,31.98" fill="none" stroke="#2a1630" stroke-width="1.0" stroke-linejoin="round"/>
<path d="M426.53,79.41 L431.53,79.41 L429.03,83.28 Z" fill="#fff" stroke="#265d92" stroke-width="0.9" stroke-linejoin="round"/>
<path d="M438.90,80.06 L443.90,80.06 L441.40,83.93 Z" fill="#fff" stroke="#265d92" stroke-width="0.9" stroke-linejoin="round"/>
<path d="M451.27,78.76 L456.27,78.76 L453.77,82.64 Z" fill="#fff" stroke="#265d92" stroke-width="0.9" stroke-linejoin="round"/>
<path d="M463.64,76.37 L468.64,76.37 L466.14,80.24 Z" fill="#fff" stroke="#265d92" stroke-width="0.9" stroke-linejoin="round"/>
<path d="M402.08,81.53 L406.48,81.53 L404.28,84.94 Z" fill="#1b4a86" stroke="#1b4a86" stroke-width="0.5" stroke-linejoin="round"/>
<path d="M414.46,78.94 L418.86,78.94 L416.66,82.35 Z" fill="#1b4a86" stroke="#1b4a86" stroke-width="0.5" stroke-linejoin="round"/>
<path d="M426.83,71.17 L431.23,71.17 L429.03,74.58 Z" fill="#1b4a86" stroke="#1b4a86" stroke-width="0.5" stroke-linejoin="round"/>
<path d="M439.20,51.75 L443.60,51.75 L441.40,55.16 Z" fill="#1b4a86" stroke="#1b4a86" stroke-width="0.5" stroke-linejoin="round"/>
<path d="M451.57,35.56 L455.97,35.56 L453.77,38.97 Z" fill="#1b4a86" stroke="#1b4a86" stroke-width="0.5" stroke-linejoin="round"/>
<path d="M463.94,30.38 L468.34,30.38 L466.14,33.79 Z" fill="#1b4a86" stroke="#1b4a86" stroke-width="0.5" stroke-linejoin="round"/>
<circle cx="404.28" cy="82.20" r="2.3" fill="#c8102e"/>
<circle cx="416.66" cy="79.87" r="2.3" fill="#c8102e"/>
<circle cx="429.03" cy="72.95" r="2.3" fill="#c8102e"/>
<circle cx="441.40" cy="54.82" r="2.3" fill="#c8102e"/>
<circle cx="453.77" cy="38.63" r="2.3" fill="#c8102e"/>
<circle cx="466.14" cy="30.79" r="2.3" fill="#c8102e"/>
<line x1="391.20" y1="22.20" x2="401.00" y2="22.20" stroke="#1b4a86" stroke-width="0.9"/>
<path d="M394.50,21.04 L397.70,21.04 L396.10,23.52 Z" fill="#1b4a86" stroke="#1b4a86" stroke-width="0.5" stroke-linejoin="round"/>
<text x="403.60" y="24.55" font-size="6.7" textLength="40.00" lengthAdjust="spacingAndGlyphs">EC50: 8.2nM</text>
<line x1="391.20" y1="33.00" x2="401.00" y2="33.00" stroke="#265d92" stroke-width="0.9"/>
<path d="M394.20,31.66 L398.00,31.66 L396.10,34.60 Z" fill="#fff" stroke="#265d92" stroke-width="0.8" stroke-linejoin="round"/>
<text x="403.60" y="35.35" font-size="6.7" textLength="30.50" lengthAdjust="spacingAndGlyphs">EC50: ND</text>
<line x1="391.20" y1="43.60" x2="401.00" y2="43.60" stroke="#c8102e" stroke-width="0.9"/>
<circle cx="396.10" cy="43.60" r="1.9" fill="#c8102e"/>
<text x="403.60" y="45.95" font-size="6.7" textLength="40.00" lengthAdjust="spacingAndGlyphs">EC50: 9.0nM</text>
<line x1="250.30" y1="129.90" x2="250.30" y2="192.50" stroke="#111" stroke-width="1.3"/>
<line x1="249.70" y1="192.00" x2="341.00" y2="192.00" stroke="#111" stroke-width="1.5"/>
<line x1="247.30" y1="192.00" x2="250.30" y2="192.00" stroke="#111" stroke-width="0.9"/>
<line x1="247.30" y1="178.80" x2="250.30" y2="178.80" stroke="#111" stroke-width="0.9"/>
<line x1="247.30" y1="165.60" x2="250.30" y2="165.60" stroke="#111" stroke-width="0.9"/>
<line x1="247.30" y1="152.40" x2="250.30" y2="152.40" stroke="#111" stroke-width="0.9"/>
<line x1="247.30" y1="139.20" x2="250.30" y2="139.20" stroke="#111" stroke-width="0.9"/>
<line x1="248.50" y1="185.40" x2="250.30" y2="185.40" stroke="#111" stroke-width="0.7"/>
<line x1="248.50" y1="172.20" x2="250.30" y2="172.20" stroke="#111" stroke-width="0.7"/>
<line x1="248.50" y1="159.00" x2="250.30" y2="159.00" stroke="#111" stroke-width="0.7"/>
<line x1="248.50" y1="145.80" x2="250.30" y2="145.80" stroke="#111" stroke-width="0.7"/>
<line x1="248.50" y1="132.60" x2="250.30" y2="132.60" stroke="#111" stroke-width="0.7"/>
<line x1="250.30" y1="192.00" x2="250.30" y2="195.00" stroke="#111" stroke-width="0.9"/>
<line x1="255.66" y1="192.00" x2="255.66" y2="193.60" stroke="#111" stroke-width="0.6"/>
<line x1="258.79" y1="192.00" x2="258.79" y2="193.60" stroke="#111" stroke-width="0.6"/>
<line x1="261.02" y1="192.00" x2="261.02" y2="193.60" stroke="#111" stroke-width="0.6"/>
<line x1="262.74" y1="192.00" x2="262.74" y2="193.60" stroke="#111" stroke-width="0.6"/>
<line x1="264.15" y1="192.00" x2="264.15" y2="193.60" stroke="#111" stroke-width="0.6"/>
<line x1="265.34" y1="192.00" x2="265.34" y2="193.60" stroke="#111" stroke-width="0.6"/>
<line x1="266.38" y1="192.00" x2="266.38" y2="193.60" stroke="#111" stroke-width="0.6"/>
<line x1="267.29" y1="192.00" x2="267.29" y2="193.60" stroke="#111" stroke-width="0.6"/>
<line x1="268.10" y1="192.00" x2="268.10" y2="195.00" stroke="#111" stroke-width="0.9"/>
<line x1="273.46" y1="192.00" x2="273.46" y2="193.60" stroke="#111" stroke-width="0.6"/>
<line x1="276.59" y1="192.00" x2="276.59" y2="193.60" stroke="#111" stroke-width="0.6"/>
<line x1="278.82" y1="192.00" x2="278.82" y2="193.60" stroke="#111" stroke-width="0.6"/>
<line x1="280.54" y1="192.00" x2="280.54" y2="193.60" stroke="#111" stroke-width="0.6"/>
<line x1="281.95" y1="192.00" x2="281.95" y2="193.60" stroke="#111" stroke-width="0.6"/>
<line x1="283.14" y1="192.00" x2="283.14" y2="193.60" stroke="#111" stroke-width="0.6"/>
<line x1="284.18" y1="192.00" x2="284.18" y2="193.60" stroke="#111" stroke-width="0.6"/>
<line x1="285.09" y1="192.00" x2="285.09" y2="193.60" stroke="#111" stroke-width="0.6"/>
<line x1="285.90" y1="192.00" x2="285.90" y2="195.00" stroke="#111" stroke-width="0.9"/>
<line x1="291.26" y1="192.00" x2="291.26" y2="193.60" stroke="#111" stroke-width="0.6"/>
<line x1="294.39" y1="192.00" x2="294.39" y2="193.60" stroke="#111" stroke-width="0.6"/>
<line x1="296.62" y1="192.00" x2="296.62" y2="193.60" stroke="#111" stroke-width="0.6"/>
<line x1="298.34" y1="192.00" x2="298.34" y2="193.60" stroke="#111" stroke-width="0.6"/>
<line x1="299.75" y1="192.00" x2="299.75" y2="193.60" stroke="#111" stroke-width="0.6"/>
<line x1="300.94" y1="192.00" x2="300.94" y2="193.60" stroke="#111" stroke-width="0.6"/>
<line x1="301.98" y1="192.00" x2="301.98" y2="193.60" stroke="#111" stroke-width="0.6"/>
<line x1="302.89" y1="192.00" x2="302.89" y2="193.60" stroke="#111" stroke-width="0.6"/>
<line x1="303.70" y1="192.00" x2="303.70" y2="195.00" stroke="#111" stroke-width="0.9"/>
<line x1="309.06" y1="192.00" x2="309.06" y2="193.60" stroke="#111" stroke-width="0.6"/>
<line x1="312.19" y1="192.00" x2="312.19" y2="193.60" stroke="#111" stroke-width="0.6"/>
<line x1="314.42" y1="192.00" x2="314.42" y2="193.60" stroke="#111" stroke-width="0.6"/>
<line x1="316.14" y1="192.00" x2="316.14" y2="193.60" stroke="#111" stroke-width="0.6"/>
<line x1="317.55" y1="192.00" x2="317.55" y2="193.60" stroke="#111" stroke-width="0.6"/>
<line x1="318.74" y1="192.00" x2="318.74" y2="193.60" stroke="#111" stroke-width="0.6"/>
<line x1="319.78" y1="192.00" x2="319.78" y2="193.60" stroke="#111" stroke-width="0.6"/>
<line x1="320.69" y1="192.00" x2="320.69" y2="193.60" stroke="#111" stroke-width="0.6"/>
<line x1="321.50" y1="192.00" x2="321.50" y2="195.00" stroke="#111" stroke-width="0.9"/>
<line x1="326.86" y1="192.00" x2="326.86" y2="193.60" stroke="#111" stroke-width="0.6"/>
<line x1="329.99" y1="192.00" x2="329.99" y2="193.60" stroke="#111" stroke-width="0.6"/>
<line x1="332.22" y1="192.00" x2="332.22" y2="193.60" stroke="#111" stroke-width="0.6"/>
<line x1="333.94" y1="192.00" x2="333.94" y2="193.60" stroke="#111" stroke-width="0.6"/>
<line x1="335.35" y1="192.00" x2="335.35" y2="193.60" stroke="#111" stroke-width="0.6"/>
<line x1="336.54" y1="192.00" x2="336.54" y2="193.60" stroke="#111" stroke-width="0.6"/>
<line x1="337.58" y1="192.00" x2="337.58" y2="193.60" stroke="#111" stroke-width="0.6"/>
<line x1="338.49" y1="192.00" x2="338.49" y2="193.60" stroke="#111" stroke-width="0.6"/>
<line x1="339.30" y1="192.00" x2="339.30" y2="195.00" stroke="#111" stroke-width="0.9"/>
<text x="294.60" y="123.80" font-size="6.8" text-anchor="middle" textLength="16.20" lengthAdjust="spacingAndGlyphs">T cell</text>
<text transform="translate(220.80 160.70) rotate(-90)" font-size="7.2" text-anchor="middle" textLength="10.30" lengthAdjust="spacingAndGlyphs">MFI</text>
<text transform="translate(243.30 194.90) scale(0.87 1)" font-size="7.3" text-anchor="end">0</text>
<text transform="translate(243.30 181.70) scale(0.87 1)" font-size="7.3" text-anchor="end">2×10<tspan font-size="4.40" dy="-2.90">4</tspan></text>
<text transform="translate(243.30 168.50) scale(0.87 1)" font-size="7.3" text-anchor="end">4×10<tspan font-size="4.40" dy="-2.90">4</tspan></text>
<text transform="translate(243.30 155.30) scale(0.87 1)" font-size="7.3" text-anchor="end">6×10<tspan font-size="4.40" dy="-2.90">4</tspan></text>
<text transform="translate(243.30 142.10) scale(0.87 1)" font-size="7.3" text-anchor="end">8×10<tspan font-size="4.40" dy="-2.90">4</tspan></text>
<text transform="translate(250.70 204.60) scale(0.93 1)" font-size="7.0" text-anchor="middle">10<tspan font-size="4.30" dy="-2.60">1</tspan></text>
<text transform="translate(268.50 204.60) scale(0.93 1)" font-size="7.0" text-anchor="middle">10<tspan font-size="4.30" dy="-2.60">2</tspan></text>
<text transform="translate(286.30 204.60) scale(0.93 1)" font-size="7.0" text-anchor="middle">10<tspan font-size="4.30" dy="-2.60">3</tspan></text>
<text transform="translate(304.10 204.60) scale(0.93 1)" font-size="7.0" text-anchor="middle">10<tspan font-size="4.30" dy="-2.60">4</tspan></text>
<text transform="translate(321.90 204.60) scale(0.93 1)" font-size="7.0" text-anchor="middle">10<tspan font-size="4.30" dy="-2.60">5</tspan></text>
<text transform="translate(339.70 204.60) scale(0.93 1)" font-size="7.0" text-anchor="middle">10<tspan font-size="4.30" dy="-2.60">6</tspan></text>
<text x="296.00" y="216.40" font-size="7.7" text-anchor="middle" textLength="53.20" lengthAdjust="spacingAndGlyphs">Concentration (pM)</text>
<polyline points="266.37,191.78 267.15,191.76 267.93,191.73 268.71,191.70 269.48,191.67 270.26,191.64 271.04,191.60 271.82,191.55 272.59,191.50 273.37,191.45 274.15,191.39 274.93,191.32 275.71,191.25 276.48,191.17 277.26,191.08 278.04,190.98 278.82,190.87 279.59,190.75 280.37,190.61 281.15,190.46 281.93,190.30 282.70,190.13 283.48,189.93 284.26,189.72 285.04,189.48 285.81,189.23 286.59,188.95 287.37,188.64 288.15,188.31 288.92,187.96 289.70,187.57 290.48,187.15 291.26,186.70 292.04,186.22 292.81,185.71 293.59,185.16 294.37,184.58 295.15,183.96 295.92,183.32 296.70,182.64 297.48,181.93 298.26,181.20 299.03,180.44 299.81,179.65 300.59,178.86 301.37,178.04 302.14,177.22 302.92,176.39 303.70,175.57 304.48,174.74 305.26,173.93 306.03,173.13 306.81,172.34 307.59,171.58 308.37,170.84 309.14,170.13 309.92,169.45 310.70,168.79 311.48,168.17 312.25,167.59 313.03,167.03 313.81,166.51 314.59,166.02 315.36,165.57 316.14,165.15 316.92,164.76 317.70,164.39 318.48,164.06 319.25,163.75 320.03,163.47 320.81,163.21 321.59,162.97 322.36,162.75 323.14,162.56 323.92,162.38 324.70,162.21 325.47,162.06 326.25,161.93 327.03,161.80 327.81,161.69 328.58,161.59" fill="none" stroke="#1b4a86" stroke-width="1.0" stroke-linejoin="round"/>
<polyline points="266.37,191.76 267.15,191.74 267.93,191.71 268.71,191.67 269.48,191.64 270.26,191.60 271.04,191.55 271.82,191.51 272.59,191.45 273.37,191.39 274.15,191.32 274.93,191.25 275.71,191.17 276.48,191.08 277.26,190.98 278.04,190.87 278.82,190.75 279.59,190.61 280.37,190.47 281.15,190.30 281.93,190.12 282.70,189.93 283.48,189.71 284.26,189.47 285.04,189.21 285.81,188.93 286.59,188.62 287.37,188.28 288.15,187.91 288.92,187.51 289.70,187.08 290.48,186.61 291.26,186.11 292.04,185.57 292.81,184.99 293.59,184.38 294.37,183.72 295.15,183.03 295.92,182.29 296.70,181.52 297.48,180.72 298.26,179.88 299.03,179.02 299.81,178.12 300.59,177.21 301.37,176.27 302.14,175.32 302.92,174.37 303.70,173.41 304.48,172.46 305.26,171.51 306.03,170.57 306.81,169.65 307.59,168.76 308.37,167.89 309.14,167.05 309.92,166.24 310.70,165.47 311.48,164.73 312.25,164.04 313.03,163.38 313.81,162.76 314.59,162.18 315.36,161.63 316.14,161.13 316.92,160.66 317.70,160.22 318.48,159.82 319.25,159.45 320.03,159.11 320.81,158.80 321.59,158.51 322.36,158.25 323.14,158.01 323.92,157.79 324.70,157.59 325.47,157.41 326.25,157.25 327.03,157.10 327.81,156.96 328.58,156.84" fill="none" stroke="#265d92" stroke-width="1.0" stroke-linejoin="round"/>
<polyline points="266.37,191.77 267.15,191.74 267.93,191.71 268.71,191.68 269.48,191.64 270.26,191.61 271.04,191.56 271.82,191.51 272.59,191.46 273.37,191.40 274.15,191.34 274.93,191.26 275.71,191.18 276.48,191.10 277.26,191.00 278.04,190.89 278.82,190.77 279.59,190.64 280.37,190.50 281.15,190.34 281.93,190.16 282.70,189.97 283.48,189.76 284.26,189.52 285.04,189.27 285.81,188.99 286.59,188.69 287.37,188.36 288.15,188.00 288.92,187.62 289.70,187.20 290.48,186.74 291.26,186.26 292.04,185.74 292.81,185.18 293.59,184.58 294.37,183.95 295.15,183.29 295.92,182.59 296.70,181.85 297.48,181.08 298.26,180.29 299.03,179.46 299.81,178.62 300.59,177.75 301.37,176.87 302.14,175.98 302.92,175.08 303.70,174.18 304.48,173.29 305.26,172.41 306.03,171.54 306.81,170.69 307.59,169.86 308.37,169.06 309.14,168.29 309.92,167.55 310.70,166.84 311.48,166.17 312.25,165.53 313.03,164.93 313.81,164.37 314.59,163.84 315.36,163.34 316.14,162.89 316.92,162.46 317.70,162.07 318.48,161.71 319.25,161.37 320.03,161.07 320.81,160.78 321.59,160.53 322.36,160.29 323.14,160.08 323.92,159.88 324.70,159.70 325.47,159.54 326.25,159.39 327.03,159.26 327.81,159.14 328.58,159.03" fill="none" stroke="#c8102e" stroke-width="1.2" stroke-linejoin="round"/>
<path d="M264.17,190.35 L268.57,190.35 L266.37,193.76 Z" fill="#1b4a86" stroke="#1b4a86" stroke-width="0.5" stroke-linejoin="round"/>
<path d="M276.62,189.69 L281.02,189.69 L278.82,193.10 Z" fill="#1b4a86" stroke="#1b4a86" stroke-width="0.5" stroke-linejoin="round"/>
<path d="M289.06,185.40 L293.46,185.40 L291.26,188.81 Z" fill="#1b4a86" stroke="#1b4a86" stroke-width="0.5" stroke-linejoin="round"/>
<path d="M301.50,170.88 L305.90,170.88 L303.70,174.29 Z" fill="#1b4a86" stroke="#1b4a86" stroke-width="0.5" stroke-linejoin="round"/>
<path d="M313.94,156.36 L318.34,156.36 L316.14,159.77 Z" fill="#1b4a86" stroke="#1b4a86" stroke-width="0.5" stroke-linejoin="round"/>
<path d="M326.38,159.00 L330.78,159.00 L328.58,162.41 Z" fill="#1b4a86" stroke="#1b4a86" stroke-width="0.5" stroke-linejoin="round"/>
<path d="M263.67,190.05 L269.07,190.05 L266.37,194.23 Z" fill="#c8102e" stroke="#3a3f6a" stroke-width="0.8" stroke-linejoin="round"/>
<path d="M276.12,189.06 L281.52,189.06 L278.82,193.25 Z" fill="#c8102e" stroke="#3a3f6a" stroke-width="0.8" stroke-linejoin="round"/>
<path d="M288.56,184.44 L293.96,184.44 L291.26,188.62 Z" fill="#c8102e" stroke="#3a3f6a" stroke-width="0.8" stroke-linejoin="round"/>
<path d="M301.00,169.92 L306.40,169.92 L303.70,174.10 Z" fill="#c8102e" stroke="#3a3f6a" stroke-width="0.8" stroke-linejoin="round"/>
<path d="M313.44,154.74 L318.84,154.74 L316.14,158.93 Z" fill="#c8102e" stroke="#3a3f6a" stroke-width="0.8" stroke-linejoin="round"/>
<path d="M325.88,153.42 L331.28,153.42 L328.58,157.61 Z" fill="#c8102e" stroke="#3a3f6a" stroke-width="0.8" stroke-linejoin="round"/>
<circle cx="266.37" cy="191.60" r="2.3" fill="#c8102e"/>
<circle cx="278.82" cy="190.81" r="2.3" fill="#c8102e"/>
<circle cx="291.26" cy="186.32" r="2.3" fill="#c8102e"/>
<circle cx="303.70" cy="173.39" r="2.3" fill="#c8102e"/>
<circle cx="316.14" cy="157.68" r="2.3" fill="#c8102e"/>
<circle cx="328.58" cy="159.00" r="2.3" fill="#c8102e"/>
<line x1="253.40" y1="136.60" x2="262.30" y2="136.60" stroke="#1b4a86" stroke-width="0.9"/>
<path d="M256.25,135.44 L259.45,135.44 L257.85,137.92 Z" fill="#1b4a86" stroke="#1b4a86" stroke-width="0.5" stroke-linejoin="round"/>
<text x="265.60" y="138.95" font-size="6.7" textLength="39.20" lengthAdjust="spacingAndGlyphs">EC50: 9.1nM</text>
<line x1="253.40" y1="147.20" x2="262.30" y2="147.20" stroke="#265d92" stroke-width="0.9"/>
<path d="M255.95,145.86 L259.75,145.86 L257.85,148.81 Z" fill="#fff" stroke="#265d92" stroke-width="0.8" stroke-linejoin="round"/>
<text x="265.60" y="149.55" font-size="6.7" textLength="39.20" lengthAdjust="spacingAndGlyphs">EC50: 9.6nM</text>
<line x1="253.40" y1="157.90" x2="262.30" y2="157.90" stroke="#c8102e" stroke-width="0.9"/>
<circle cx="257.85" cy="157.90" r="1.9" fill="#c8102e"/>
<text x="265.60" y="160.25" font-size="6.7" textLength="39.20" lengthAdjust="spacingAndGlyphs">EC50: 9.2nM</text>
<line x1="388.20" y1="129.60" x2="388.20" y2="192.50" stroke="#111" stroke-width="1.3"/>
<line x1="387.60" y1="192.00" x2="480.30" y2="192.00" stroke="#111" stroke-width="1.5"/>
<line x1="385.20" y1="192.00" x2="388.20" y2="192.00" stroke="#111" stroke-width="0.9"/>
<line x1="385.20" y1="178.90" x2="388.20" y2="178.90" stroke="#111" stroke-width="0.9"/>
<line x1="385.20" y1="165.80" x2="388.20" y2="165.80" stroke="#111" stroke-width="0.9"/>
<line x1="385.20" y1="152.70" x2="388.20" y2="152.70" stroke="#111" stroke-width="0.9"/>
<line x1="385.20" y1="139.60" x2="388.20" y2="139.60" stroke="#111" stroke-width="0.9"/>
<line x1="386.40" y1="185.45" x2="388.20" y2="185.45" stroke="#111" stroke-width="0.7"/>
<line x1="386.40" y1="172.35" x2="388.20" y2="172.35" stroke="#111" stroke-width="0.7"/>
<line x1="386.40" y1="159.25" x2="388.20" y2="159.25" stroke="#111" stroke-width="0.7"/>
<line x1="386.40" y1="146.15" x2="388.20" y2="146.15" stroke="#111" stroke-width="0.7"/>
<line x1="386.40" y1="133.05" x2="388.20" y2="133.05" stroke="#111" stroke-width="0.7"/>
<line x1="388.20" y1="192.00" x2="388.20" y2="195.00" stroke="#111" stroke-width="0.9"/>
<line x1="393.53" y1="192.00" x2="393.53" y2="193.60" stroke="#111" stroke-width="0.6"/>
<line x1="396.65" y1="192.00" x2="396.65" y2="193.60" stroke="#111" stroke-width="0.6"/>
<line x1="398.86" y1="192.00" x2="398.86" y2="193.60" stroke="#111" stroke-width="0.6"/>
<line x1="400.57" y1="192.00" x2="400.57" y2="193.60" stroke="#111" stroke-width="0.6"/>
<line x1="401.97" y1="192.00" x2="401.97" y2="193.60" stroke="#111" stroke-width="0.6"/>
<line x1="403.16" y1="192.00" x2="403.16" y2="193.60" stroke="#111" stroke-width="0.6"/>
<line x1="404.18" y1="192.00" x2="404.18" y2="193.60" stroke="#111" stroke-width="0.6"/>
<line x1="405.09" y1="192.00" x2="405.09" y2="193.60" stroke="#111" stroke-width="0.6"/>
<line x1="405.90" y1="192.00" x2="405.90" y2="195.00" stroke="#111" stroke-width="0.9"/>
<line x1="411.23" y1="192.00" x2="411.23" y2="193.60" stroke="#111" stroke-width="0.6"/>
<line x1="414.35" y1="192.00" x2="414.35" y2="193.60" stroke="#111" stroke-width="0.6"/>
<line x1="416.56" y1="192.00" x2="416.56" y2="193.60" stroke="#111" stroke-width="0.6"/>
<line x1="418.27" y1="192.00" x2="418.27" y2="193.60" stroke="#111" stroke-width="0.6"/>
<line x1="419.67" y1="192.00" x2="419.67" y2="193.60" stroke="#111" stroke-width="0.6"/>
<line x1="420.86" y1="192.00" x2="420.86" y2="193.60" stroke="#111" stroke-width="0.6"/>
<line x1="421.88" y1="192.00" x2="421.88" y2="193.60" stroke="#111" stroke-width="0.6"/>
<line x1="422.79" y1="192.00" x2="422.79" y2="193.60" stroke="#111" stroke-width="0.6"/>
<line x1="423.60" y1="192.00" x2="423.60" y2="195.00" stroke="#111" stroke-width="0.9"/>
<line x1="428.93" y1="192.00" x2="428.93" y2="193.60" stroke="#111" stroke-width="0.6"/>
<line x1="432.05" y1="192.00" x2="432.05" y2="193.60" stroke="#111" stroke-width="0.6"/>
<line x1="434.26" y1="192.00" x2="434.26" y2="193.60" stroke="#111" stroke-width="0.6"/>
<line x1="435.97" y1="192.00" x2="435.97" y2="193.60" stroke="#111" stroke-width="0.6"/>
<line x1="437.37" y1="192.00" x2="437.37" y2="193.60" stroke="#111" stroke-width="0.6"/>
<line x1="438.56" y1="192.00" x2="438.56" y2="193.60" stroke="#111" stroke-width="0.6"/>
<line x1="439.58" y1="192.00" x2="439.58" y2="193.60" stroke="#111" stroke-width="0.6"/>
<line x1="440.49" y1="192.00" x2="440.49" y2="193.60" stroke="#111" stroke-width="0.6"/>
<line x1="441.30" y1="192.00" x2="441.30" y2="195.00" stroke="#111" stroke-width="0.9"/>
<line x1="446.63" y1="192.00" x2="446.63" y2="193.60" stroke="#111" stroke-width="0.6"/>
<line x1="449.75" y1="192.00" x2="449.75" y2="193.60" stroke="#111" stroke-width="0.6"/>
<line x1="451.96" y1="192.00" x2="451.96" y2="193.60" stroke="#111" stroke-width="0.6"/>
<line x1="453.67" y1="192.00" x2="453.67" y2="193.60" stroke="#111" stroke-width="0.6"/>
<line x1="455.07" y1="192.00" x2="455.07" y2="193.60" stroke="#111" stroke-width="0.6"/>
<line x1="456.26" y1="192.00" x2="456.26" y2="193.60" stroke="#111" stroke-width="0.6"/>
<line x1="457.28" y1="192.00" x2="457.28" y2="193.60" stroke="#111" stroke-width="0.6"/>
<line x1="458.19" y1="192.00" x2="458.19" y2="193.60" stroke="#111" stroke-width="0.6"/>
<line x1="459.00" y1="192.00" x2="459.00" y2="195.00" stroke="#111" stroke-width="0.9"/>
<line x1="464.33" y1="192.00" x2="464.33" y2="193.60" stroke="#111" stroke-width="0.6"/>
<line x1="467.45" y1="192.00" x2="467.45" y2="193.60" stroke="#111" stroke-width="0.6"/>
<line x1="469.66" y1="192.00" x2="469.66" y2="193.60" stroke="#111" stroke-width="0.6"/>
<line x1="471.37" y1="192.00" x2="471.37" y2="193.60" stroke="#111" stroke-width="0.6"/>
<line x1="472.77" y1="192.00" x2="472.77" y2="193.60" stroke="#111" stroke-width="0.6"/>
<line x1="473.96" y1="192.00" x2="473.96" y2="193.60" stroke="#111" stroke-width="0.6"/>
<line x1="474.98" y1="192.00" x2="474.98" y2="193.60" stroke="#111" stroke-width="0.6"/>
<line x1="475.89" y1="192.00" x2="475.89" y2="193.60" stroke="#111" stroke-width="0.6"/>
<line x1="476.70" y1="192.00" x2="476.70" y2="195.00" stroke="#111" stroke-width="0.9"/>
<text x="432.90" y="124.20" font-size="6.8" text-anchor="middle" textLength="15.80" lengthAdjust="spacingAndGlyphs">K562</text>
<text transform="translate(359.50 160.70) rotate(-90)" font-size="7.2" text-anchor="middle" textLength="10.30" lengthAdjust="spacingAndGlyphs">MFI</text>
<text transform="translate(381.20 194.90) scale(0.87 1)" font-size="7.3" text-anchor="end">0</text>
<text transform="translate(381.20 181.80) scale(0.87 1)" font-size="7.3" text-anchor="end">2×10<tspan font-size="4.40" dy="-2.90">4</tspan></text>
<text transform="translate(381.20 168.70) scale(0.87 1)" font-size="7.3" text-anchor="end">4×10<tspan font-size="4.40" dy="-2.90">4</tspan></text>
<text transform="translate(381.20 155.60) scale(0.87 1)" font-size="7.3" text-anchor="end">6×10<tspan font-size="4.40" dy="-2.90">4</tspan></text>
<text transform="translate(381.20 142.50) scale(0.87 1)" font-size="7.3" text-anchor="end">8×10<tspan font-size="4.40" dy="-2.90">4</tspan></text>
<text transform="translate(388.60 204.60) scale(0.93 1)" font-size="7.0" text-anchor="middle">10<tspan font-size="4.30" dy="-2.60">1</tspan></text>
<text transform="translate(406.30 204.60) scale(0.93 1)" font-size="7.0" text-anchor="middle">10<tspan font-size="4.30" dy="-2.60">2</tspan></text>
<text transform="translate(424.00 204.60) scale(0.93 1)" font-size="7.0" text-anchor="middle">10<tspan font-size="4.30" dy="-2.60">3</tspan></text>
<text transform="translate(441.70 204.60) scale(0.93 1)" font-size="7.0" text-anchor="middle">10<tspan font-size="4.30" dy="-2.60">4</tspan></text>
<text transform="translate(459.40 204.60) scale(0.93 1)" font-size="7.0" text-anchor="middle">10<tspan font-size="4.30" dy="-2.60">5</tspan></text>
<text transform="translate(477.10 204.60) scale(0.93 1)" font-size="7.0" text-anchor="middle">10<tspan font-size="4.30" dy="-2.60">6</tspan></text>
<text x="435.00" y="216.40" font-size="7.7" text-anchor="middle" textLength="53.20" lengthAdjust="spacingAndGlyphs">Concentration (pM)</text>
<polyline points="404.18,191.67 404.96,191.67 405.73,191.67 406.50,191.67 407.28,191.67 408.05,191.67 408.82,191.67 409.60,191.67 410.37,191.67 411.14,191.67 411.92,191.67 412.69,191.67 413.46,191.67 414.24,191.67 415.01,191.67 415.78,191.67 416.56,191.67 417.33,191.67 418.10,191.67 418.88,191.67 419.65,191.67 420.42,191.67 421.20,191.67 421.97,191.67 422.74,191.67 423.51,191.67 424.29,191.67 425.06,191.67 425.83,191.67 426.61,191.67 427.38,191.67 428.15,191.67 428.93,191.67 429.70,191.67 430.47,191.67 431.25,191.67 432.02,191.67 432.79,191.67 433.57,191.67 434.34,191.67 435.11,191.67 435.89,191.67 436.66,191.67 437.43,191.67 438.21,191.67 438.98,191.67 439.75,191.67 440.53,191.67 441.30,191.67 442.07,191.67 442.85,191.67 443.62,191.67 444.39,191.67 445.17,191.67 445.94,191.67 446.71,191.67 447.49,191.67 448.26,191.67 449.03,191.67 449.81,191.67 450.58,191.67 451.35,191.67 452.13,191.67 452.90,191.67 453.67,191.67 454.45,191.67 455.22,191.67 455.99,191.67 456.77,191.67 457.54,191.67 458.31,191.67 459.09,191.67 459.86,191.67 460.63,191.67 461.40,191.67 462.18,191.67 462.95,191.67 463.72,191.67 464.50,191.67 465.27,191.67 466.04,191.67" fill="none" stroke="#265d92" stroke-width="1.0" stroke-linejoin="round"/>
<polyline points="404.18,191.67 404.96,191.67 405.73,191.67 406.50,191.67 407.28,191.67 408.05,191.67 408.82,191.67 409.60,191.67 410.37,191.67 411.14,191.67 411.92,191.67 412.69,191.67 413.46,191.67 414.24,191.67 415.01,191.67 415.78,191.67 416.56,191.67 417.33,191.67 418.10,191.67 418.88,191.67 419.65,191.67 420.42,191.67 421.20,191.67 421.97,191.67 422.74,191.67 423.51,191.67 424.29,191.67 425.06,191.67 425.83,191.67 426.61,191.67 427.38,191.67 428.15,191.67 428.93,191.67 429.70,191.67 430.47,191.67 431.25,191.67 432.02,191.67 432.79,191.67 433.57,191.67 434.34,191.67 435.11,191.67 435.89,191.67 436.66,191.67 437.43,191.67 438.21,191.67 438.98,191.67 439.75,191.67 440.53,191.67 441.30,191.67 442.07,191.67 442.85,191.67 443.62,191.67 444.39,191.67 445.17,191.67 445.94,191.67 446.71,191.67 447.49,191.67 448.26,191.67 449.03,191.67 449.81,191.67 450.58,191.67 451.35,191.67 452.13,191.67 452.90,191.67 453.67,191.67 454.45,191.66 455.22,191.66 455.99,191.66 456.77,191.65 457.54,191.64 458.31,191.63 459.09,191.62 459.86,191.60 460.63,191.58 461.40,191.55 462.18,191.51 462.95,191.46 463.72,191.40 464.50,191.32 465.27,191.23 466.04,191.13" fill="none" stroke="#1b4a86" stroke-width="1.0" stroke-linejoin="round"/>
<polyline points="404.18,192.00 404.96,192.00 405.73,192.00 406.50,192.00 407.28,192.00 408.05,192.00 408.82,192.00 409.60,192.00 410.37,192.00 411.14,192.00 411.92,192.00 412.69,192.00 413.46,192.00 414.24,192.00 415.01,192.00 415.78,192.00 416.56,192.00 417.33,192.00 418.10,192.00 418.88,192.00 419.65,192.00 420.42,192.00 421.20,192.00 421.97,192.00 422.74,192.00 423.51,192.00 424.29,192.00 425.06,192.00 425.83,192.00 426.61,192.00 427.38,192.00 428.15,192.00 428.93,192.00 429.70,192.00 430.47,192.00 431.25,192.00 432.02,192.00 432.79,192.00 433.57,192.00 434.34,192.00 435.11,192.00 435.89,192.00 436.66,192.00 437.43,192.00 438.21,192.00 438.98,192.00 439.75,192.00 440.53,192.00 441.30,192.00 442.07,192.00 442.85,192.00 443.62,192.00 444.39,192.00 445.17,192.00 445.94,192.00 446.71,192.00 447.49,192.00 448.26,192.00 449.03,192.00 449.81,192.00 450.58,192.00 451.35,192.00 452.13,192.00 452.90,192.00 453.67,192.00 454.45,192.00 455.22,192.00 455.99,192.00 456.77,192.00 457.54,192.00 458.31,192.00 459.09,192.00 459.86,192.00 460.63,192.00 461.40,192.00 462.18,192.00 462.95,192.00 463.72,192.00 464.50,192.00 465.27,192.00 466.04,192.00" fill="none" stroke="#c8102e" stroke-width="1.2" stroke-linejoin="round"/>
<path d="M401.68,190.50 L406.68,190.50 L404.18,194.38 Z" fill="#fff" stroke="#265d92" stroke-width="0.9" stroke-linejoin="round"/>
<path d="M414.06,190.50 L419.06,190.50 L416.56,194.38 Z" fill="#fff" stroke="#265d92" stroke-width="0.9" stroke-linejoin="round"/>
<path d="M426.43,190.50 L431.43,190.50 L428.93,194.38 Z" fill="#fff" stroke="#265d92" stroke-width="0.9" stroke-linejoin="round"/>
<path d="M438.80,190.50 L443.80,190.50 L441.30,194.38 Z" fill="#fff" stroke="#265d92" stroke-width="0.9" stroke-linejoin="round"/>
<path d="M451.17,190.50 L456.17,190.50 L453.67,194.38 Z" fill="#fff" stroke="#265d92" stroke-width="0.9" stroke-linejoin="round"/>
<path d="M463.54,190.50 L468.54,190.50 L466.04,194.38 Z" fill="#fff" stroke="#265d92" stroke-width="0.9" stroke-linejoin="round"/>
<path d="M401.98,190.35 L406.38,190.35 L404.18,193.76 Z" fill="#1b4a86" stroke="#1b4a86" stroke-width="0.5" stroke-linejoin="round"/>
<path d="M414.36,190.35 L418.76,190.35 L416.56,193.76 Z" fill="#1b4a86" stroke="#1b4a86" stroke-width="0.5" stroke-linejoin="round"/>
<path d="M426.73,190.35 L431.13,190.35 L428.93,193.76 Z" fill="#1b4a86" stroke="#1b4a86" stroke-width="0.5" stroke-linejoin="round"/>
<path d="M439.10,190.35 L443.50,190.35 L441.30,193.76 Z" fill="#1b4a86" stroke="#1b4a86" stroke-width="0.5" stroke-linejoin="round"/>
<path d="M451.47,190.35 L455.87,190.35 L453.67,193.76 Z" fill="#1b4a86" stroke="#1b4a86" stroke-width="0.5" stroke-linejoin="round"/>
<path d="M463.84,187.73 L468.24,187.73 L466.04,191.14 Z" fill="#1b4a86" stroke="#1b4a86" stroke-width="0.5" stroke-linejoin="round"/>
<circle cx="404.18" cy="192.00" r="2.3" fill="#c8102e"/>
<circle cx="416.56" cy="192.00" r="2.3" fill="#c8102e"/>
<circle cx="428.93" cy="192.00" r="2.3" fill="#c8102e"/>
<circle cx="441.30" cy="192.00" r="2.3" fill="#c8102e"/>
<circle cx="453.67" cy="192.00" r="2.3" fill="#c8102e"/>
<circle cx="466.04" cy="192.00" r="2.3" fill="#c8102e"/>
<line x1="390.80" y1="136.80" x2="400.80" y2="136.80" stroke="#1b4a86" stroke-width="0.9"/>
<path d="M394.20,135.64 L397.40,135.64 L395.80,138.12 Z" fill="#1b4a86" stroke="#1b4a86" stroke-width="0.5" stroke-linejoin="round"/>
<text x="403.80" y="139.15" font-size="6.7" textLength="48.00" lengthAdjust="spacingAndGlyphs">CD19/CD3 HCT</text>
<line x1="390.80" y1="147.20" x2="400.80" y2="147.20" stroke="#265d92" stroke-width="0.9"/>
<path d="M393.90,145.86 L397.70,145.86 L395.80,148.81 Z" fill="#fff" stroke="#265d92" stroke-width="0.8" stroke-linejoin="round"/>
<text x="403.80" y="149.55" font-size="6.7" textLength="47.20" lengthAdjust="spacingAndGlyphs">CD22/CD3 LCT</text>
<line x1="390.80" y1="157.80" x2="400.80" y2="157.80" stroke="#c8102e" stroke-width="0.9"/>
<circle cx="395.80" cy="157.80" r="1.9" fill="#c8102e"/>
<text x="403.80" y="160.15" font-size="6.7" textLength="68.00" lengthAdjust="spacingAndGlyphs">CD19/CD22/CD3 (CC)</text>
<line x1="30.10" y1="248.00" x2="30.10" y2="310.30" stroke="#111" stroke-width="1.3"/>
<line x1="29.50" y1="309.80" x2="122.00" y2="309.80" stroke="#111" stroke-width="1.5"/>
<line x1="27.10" y1="309.80" x2="30.10" y2="309.80" stroke="#111" stroke-width="0.9"/>
<line x1="27.10" y1="297.90" x2="30.10" y2="297.90" stroke="#111" stroke-width="0.9"/>
<line x1="27.10" y1="286.00" x2="30.10" y2="286.00" stroke="#111" stroke-width="0.9"/>
<line x1="27.10" y1="274.10" x2="30.10" y2="274.10" stroke="#111" stroke-width="0.9"/>
<line x1="27.10" y1="262.20" x2="30.10" y2="262.20" stroke="#111" stroke-width="0.9"/>
<line x1="27.10" y1="250.30" x2="30.10" y2="250.30" stroke="#111" stroke-width="0.9"/>
<line x1="28.30" y1="307.42" x2="30.10" y2="307.42" stroke="#111" stroke-width="0.7"/>
<line x1="28.30" y1="305.04" x2="30.10" y2="305.04" stroke="#111" stroke-width="0.7"/>
<line x1="28.30" y1="302.66" x2="30.10" y2="302.66" stroke="#111" stroke-width="0.7"/>
<line x1="28.30" y1="300.28" x2="30.10" y2="300.28" stroke="#111" stroke-width="0.7"/>
<line x1="28.30" y1="295.52" x2="30.10" y2="295.52" stroke="#111" stroke-width="0.7"/>
<line x1="28.30" y1="293.14" x2="30.10" y2="293.14" stroke="#111" stroke-width="0.7"/>
<line x1="28.30" y1="290.76" x2="30.10" y2="290.76" stroke="#111" stroke-width="0.7"/>
<line x1="28.30" y1="288.38" x2="30.10" y2="288.38" stroke="#111" stroke-width="0.7"/>
<line x1="28.30" y1="283.62" x2="30.10" y2="283.62" stroke="#111" stroke-width="0.7"/>
<line x1="28.30" y1="281.24" x2="30.10" y2="281.24" stroke="#111" stroke-width="0.7"/>
<line x1="28.30" y1="278.86" x2="30.10" y2="278.86" stroke="#111" stroke-width="0.7"/>
<line x1="28.30" y1="276.48" x2="30.10" y2="276.48" stroke="#111" stroke-width="0.7"/>
<line x1="28.30" y1="271.72" x2="30.10" y2="271.72" stroke="#111" stroke-width="0.7"/>
<line x1="28.30" y1="269.34" x2="30.10" y2="269.34" stroke="#111" stroke-width="0.7"/>
<line x1="28.30" y1="266.96" x2="30.10" y2="266.96" stroke="#111" stroke-width="0.7"/>
<line x1="28.30" y1="264.58" x2="30.10" y2="264.58" stroke="#111" stroke-width="0.7"/>
<line x1="28.30" y1="259.82" x2="30.10" y2="259.82" stroke="#111" stroke-width="0.7"/>
<line x1="28.30" y1="257.44" x2="30.10" y2="257.44" stroke="#111" stroke-width="0.7"/>
<line x1="28.30" y1="255.06" x2="30.10" y2="255.06" stroke="#111" stroke-width="0.7"/>
<line x1="28.30" y1="252.68" x2="30.10" y2="252.68" stroke="#111" stroke-width="0.7"/>
<line x1="30.10" y1="309.80" x2="30.10" y2="312.80" stroke="#111" stroke-width="0.9"/>
<line x1="45.00" y1="309.80" x2="45.00" y2="312.80" stroke="#111" stroke-width="0.9"/>
<line x1="59.90" y1="309.80" x2="59.90" y2="312.80" stroke="#111" stroke-width="0.9"/>
<line x1="74.80" y1="309.80" x2="74.80" y2="312.80" stroke="#111" stroke-width="0.9"/>
<line x1="89.70" y1="309.80" x2="89.70" y2="312.80" stroke="#111" stroke-width="0.9"/>
<line x1="104.60" y1="309.80" x2="104.60" y2="312.80" stroke="#111" stroke-width="0.9"/>
<line x1="119.50" y1="309.80" x2="119.50" y2="312.80" stroke="#111" stroke-width="0.9"/>
<text x="43.30" y="242.60" font-size="7.0" textLength="65.80" lengthAdjust="spacingAndGlyphs">Nalm6 (CD19<tspan font-size="4.6" dy="-2.6">+</tspan><tspan dy="2.6">​</tspan>CD22<tspan font-size="4.6" dy="-2.6">+</tspan><tspan dy="2.6">​</tspan>)</text>
<text transform="translate(6.50 279.40) rotate(-90)" font-size="6.4" text-anchor="middle" textLength="43.00" lengthAdjust="spacingAndGlyphs">Cytotoxicity (%)</text>
<text transform="translate(23.40 312.10) scale(0.94 1)" font-size="6.5" text-anchor="end">0</text>
<text transform="translate(23.40 300.20) scale(0.94 1)" font-size="6.5" text-anchor="end">20</text>
<text transform="translate(23.40 288.30) scale(0.94 1)" font-size="6.5" text-anchor="end">40</text>
<text transform="translate(23.40 276.40) scale(0.94 1)" font-size="6.5" text-anchor="end">60</text>
<text transform="translate(23.40 264.50) scale(0.94 1)" font-size="6.5" text-anchor="end">80</text>
<text transform="translate(23.40 252.60) scale(0.94 1)" font-size="6.5" text-anchor="end">100</text>
<text transform="translate(30.50 322.80) scale(0.93 1)" font-size="7.0" text-anchor="middle">10<tspan font-size="4.30" dy="-2.60">−2</tspan></text>
<text transform="translate(45.40 322.80) scale(0.93 1)" font-size="7.0" text-anchor="middle">10<tspan font-size="4.30" dy="-2.60">−1</tspan></text>
<text transform="translate(60.30 322.80) scale(0.93 1)" font-size="7.0" text-anchor="middle">10<tspan font-size="4.30" dy="-2.60">0</tspan></text>
<text transform="translate(75.20 322.80) scale(0.93 1)" font-size="7.0" text-anchor="middle">10<tspan font-size="4.30" dy="-2.60">1</tspan></text>
<text transform="translate(90.10 322.80) scale(0.93 1)" font-size="7.0" text-anchor="middle">10<tspan font-size="4.30" dy="-2.60">2</tspan></text>
<text transform="translate(105.00 322.80) scale(0.93 1)" font-size="7.0" text-anchor="middle">10<tspan font-size="4.30" dy="-2.60">3</tspan></text>
<text transform="translate(119.90 322.80) scale(0.93 1)" font-size="7.0" text-anchor="middle">10<tspan font-size="4.30" dy="-2.60">4</tspan></text>
<text x="76.50" y="334.30" font-size="7.7" text-anchor="middle" textLength="52.50" lengthAdjust="spacingAndGlyphs">Concentration (pM)</text>
<line x1="45.00" y1="291.36" x2="45.00" y2="286.89" stroke="#c8102e" stroke-width="0.8"/>
<line x1="43.20" y1="286.89" x2="46.80" y2="286.89" stroke="#c8102e" stroke-width="0.8"/>
<line x1="45.00" y1="291.36" x2="45.00" y2="295.82" stroke="#c8102e" stroke-width="0.8"/>
<line x1="43.20" y1="295.82" x2="46.80" y2="295.82" stroke="#c8102e" stroke-width="0.8"/>
<line x1="59.90" y1="306.82" x2="59.90" y2="303.55" stroke="#265d92" stroke-width="0.8"/>
<line x1="58.10" y1="303.55" x2="61.70" y2="303.55" stroke="#265d92" stroke-width="0.8"/>
<line x1="89.70" y1="260.42" x2="89.70" y2="263.99" stroke="#1b4a86" stroke-width="0.8"/>
<line x1="87.90" y1="263.99" x2="91.50" y2="263.99" stroke="#1b4a86" stroke-width="0.8"/>
<polyline points="45.00,306.23 45.75,306.23 46.49,306.23 47.23,306.23 47.98,306.23 48.73,306.23 49.47,306.23 50.22,306.22 50.96,306.22 51.70,306.22 52.45,306.22 53.20,306.22 53.94,306.22 54.69,306.21 55.43,306.21 56.17,306.21 56.92,306.20 57.67,306.20 58.41,306.20 59.16,306.19 59.90,306.18 60.64,306.17 61.39,306.16 62.13,306.15 62.88,306.14 63.62,306.12 64.37,306.10 65.12,306.08 65.86,306.06 66.61,306.03 67.35,305.99 68.09,305.95 68.84,305.90 69.59,305.85 70.33,305.78 71.08,305.70 71.82,305.61 72.56,305.50 73.31,305.38 74.06,305.23 74.80,305.06 75.55,304.86 76.29,304.63 77.03,304.36 77.78,304.05 78.53,303.69 79.27,303.27 80.02,302.79 80.76,302.24 81.50,301.61 82.25,300.89 83.00,300.07 83.74,299.15 84.48,298.11 85.23,296.96 85.97,295.69 86.72,294.30 87.47,292.79 88.21,291.17 88.96,289.44 89.70,287.62 90.44,285.73 91.19,283.80 91.94,281.84 92.68,279.87 93.43,277.94 94.17,276.05 94.91,274.23 95.66,272.50 96.41,270.88 97.15,269.37 97.90,267.98 98.64,266.71 99.39,265.56 100.13,264.52 100.88,263.60 101.62,262.78 102.37,262.06 103.11,261.43 103.86,260.88 104.60,260.40" fill="none" stroke="#265d92" stroke-width="1.1" stroke-linejoin="round"/>
<polyline points="45.00,304.37 45.75,304.13 46.49,303.87 47.23,303.58 47.98,303.27 48.73,302.94 49.47,302.57 50.22,302.18 50.96,301.75 51.70,301.29 52.45,300.79 53.20,300.25 53.94,299.67 54.69,299.05 55.43,298.39 56.17,297.69 56.92,296.94 57.67,296.15 58.41,295.31 59.16,294.42 59.90,293.50 60.64,292.53 61.39,291.52 62.13,290.47 62.88,289.39 63.62,288.28 64.37,287.14 65.12,285.99 65.86,284.81 66.61,283.62 67.35,282.43 68.09,281.24 68.84,280.05 69.59,278.87 70.33,277.72 71.08,276.58 71.82,275.47 72.56,274.39 73.31,273.34 74.06,272.33 74.80,271.36 75.55,270.44 76.29,269.55 77.03,268.71 77.78,267.92 78.53,267.17 79.27,266.47 80.02,265.81 80.76,265.19 81.50,264.61 82.25,264.07 83.00,263.57 83.74,263.11 84.48,262.68 85.23,262.29 85.97,261.92 86.72,261.59 87.47,261.28 88.21,260.99 88.96,260.73 89.70,260.49 90.44,260.28 91.19,260.08 91.94,259.89 92.68,259.73 93.43,259.57 94.17,259.43 94.91,259.31 95.66,259.19 96.41,259.09 97.15,258.99 97.90,258.90 98.64,258.82 99.39,258.75 100.13,258.68 100.88,258.62 101.62,258.57 102.37,258.52 103.11,258.48 103.86,258.44 104.60,258.40" fill="none" stroke="#1b4a86" stroke-width="1.1" stroke-linejoin="round"/>
<polyline points="45.00,291.17 45.75,289.77 46.49,288.34 47.23,286.88 47.98,285.41 48.73,283.92 49.47,282.43 50.22,280.95 50.96,279.49 51.70,278.06 52.45,276.67 53.20,275.32 53.94,274.02 54.69,272.77 55.43,271.59 56.17,270.47 56.92,269.42 57.67,268.43 58.41,267.50 59.16,266.65 59.90,265.85 60.64,265.12 61.39,264.44 62.13,263.82 62.88,263.26 63.62,262.74 64.37,262.27 65.12,261.84 65.86,261.46 66.61,261.11 67.35,260.79 68.09,260.51 68.84,260.25 69.59,260.02 70.33,259.81 71.08,259.62 71.82,259.45 72.56,259.30 73.31,259.17 74.06,259.05 74.80,258.94 75.55,258.84 76.29,258.76 77.03,258.68 77.78,258.61 78.53,258.55 79.27,258.49 80.02,258.44 80.76,258.40 81.50,258.36 82.25,258.32 83.00,258.29 83.74,258.27 84.48,258.24 85.23,258.22 85.97,258.20 86.72,258.18 87.47,258.16 88.21,258.15 88.96,258.14 89.70,258.13 90.44,258.12 91.19,258.11 91.94,258.10 92.68,258.09 93.43,258.09 94.17,258.08 94.91,258.08 95.66,258.07 96.41,258.07 97.15,258.06 97.90,258.06 98.64,258.06 99.39,258.06 100.13,258.05 100.88,258.05 101.62,258.05 102.37,258.05 103.11,258.05 103.86,258.05 104.60,258.04" fill="none" stroke="#c8102e" stroke-width="1.2" stroke-linejoin="round"/>
<path d="M42.45,298.75 L47.55,298.75 L45.00,302.70 Z" fill="#fff" stroke="#265d92" stroke-width="0.9" stroke-linejoin="round"/>
<path d="M57.35,305.30 L62.45,305.30 L59.90,309.25 Z" fill="#fff" stroke="#265d92" stroke-width="0.9" stroke-linejoin="round"/>
<path d="M72.25,302.92 L77.35,302.92 L74.80,306.87 Z" fill="#fff" stroke="#265d92" stroke-width="0.9" stroke-linejoin="round"/>
<path d="M87.15,283.88 L92.25,283.88 L89.70,287.83 Z" fill="#fff" stroke="#265d92" stroke-width="0.9" stroke-linejoin="round"/>
<path d="M102.05,258.29 L107.15,258.29 L104.60,262.24 Z" fill="#fff" stroke="#265d92" stroke-width="0.9" stroke-linejoin="round"/>
<path d="M42.85,304.64 L47.15,304.64 L45.00,307.98 Z" fill="#1b4a86" stroke="#1b4a86" stroke-width="0.5" stroke-linejoin="round"/>
<path d="M57.75,291.85 L62.05,291.85 L59.90,295.18 Z" fill="#1b4a86" stroke="#1b4a86" stroke-width="0.5" stroke-linejoin="round"/>
<path d="M72.65,271.62 L76.95,271.62 L74.80,274.95 Z" fill="#1b4a86" stroke="#1b4a86" stroke-width="0.5" stroke-linejoin="round"/>
<path d="M87.55,258.53 L91.85,258.53 L89.70,261.86 Z" fill="#1b4a86" stroke="#1b4a86" stroke-width="0.5" stroke-linejoin="round"/>
<path d="M102.45,257.34 L106.75,257.34 L104.60,260.67 Z" fill="#1b4a86" stroke="#1b4a86" stroke-width="0.5" stroke-linejoin="round"/>
<circle cx="45.00" cy="291.06" r="2.35" fill="#c8102e"/>
<circle cx="59.90" cy="267.56" r="2.35" fill="#c8102e"/>
<circle cx="74.80" cy="260.42" r="2.35" fill="#c8102e"/>
<circle cx="89.70" cy="260.42" r="2.35" fill="#c8102e"/>
<circle cx="104.60" cy="253.87" r="2.35" fill="#c8102e"/>
<line x1="156.30" y1="247.50" x2="156.30" y2="310.40" stroke="#111" stroke-width="1.3"/>
<line x1="155.70" y1="309.90" x2="248.30" y2="309.90" stroke="#111" stroke-width="1.5"/>
<line x1="153.30" y1="309.90" x2="156.30" y2="309.90" stroke="#111" stroke-width="0.9"/>
<line x1="153.30" y1="295.04" x2="156.30" y2="295.04" stroke="#111" stroke-width="0.9"/>
<line x1="153.30" y1="280.18" x2="156.30" y2="280.18" stroke="#111" stroke-width="0.9"/>
<line x1="153.30" y1="265.32" x2="156.30" y2="265.32" stroke="#111" stroke-width="0.9"/>
<line x1="153.30" y1="250.46" x2="156.30" y2="250.46" stroke="#111" stroke-width="0.9"/>
<line x1="154.50" y1="306.93" x2="156.30" y2="306.93" stroke="#111" stroke-width="0.7"/>
<line x1="154.50" y1="303.96" x2="156.30" y2="303.96" stroke="#111" stroke-width="0.7"/>
<line x1="154.50" y1="300.98" x2="156.30" y2="300.98" stroke="#111" stroke-width="0.7"/>
<line x1="154.50" y1="298.01" x2="156.30" y2="298.01" stroke="#111" stroke-width="0.7"/>
<line x1="154.50" y1="292.07" x2="156.30" y2="292.07" stroke="#111" stroke-width="0.7"/>
<line x1="154.50" y1="289.10" x2="156.30" y2="289.10" stroke="#111" stroke-width="0.7"/>
<line x1="154.50" y1="286.12" x2="156.30" y2="286.12" stroke="#111" stroke-width="0.7"/>
<line x1="154.50" y1="283.15" x2="156.30" y2="283.15" stroke="#111" stroke-width="0.7"/>
<line x1="154.50" y1="277.21" x2="156.30" y2="277.21" stroke="#111" stroke-width="0.7"/>
<line x1="154.50" y1="274.24" x2="156.30" y2="274.24" stroke="#111" stroke-width="0.7"/>
<line x1="154.50" y1="271.26" x2="156.30" y2="271.26" stroke="#111" stroke-width="0.7"/>
<line x1="154.50" y1="268.29" x2="156.30" y2="268.29" stroke="#111" stroke-width="0.7"/>
<line x1="154.50" y1="262.35" x2="156.30" y2="262.35" stroke="#111" stroke-width="0.7"/>
<line x1="154.50" y1="259.38" x2="156.30" y2="259.38" stroke="#111" stroke-width="0.7"/>
<line x1="154.50" y1="256.40" x2="156.30" y2="256.40" stroke="#111" stroke-width="0.7"/>
<line x1="154.50" y1="253.43" x2="156.30" y2="253.43" stroke="#111" stroke-width="0.7"/>
<line x1="156.30" y1="309.90" x2="156.30" y2="312.90" stroke="#111" stroke-width="0.9"/>
<line x1="171.15" y1="309.90" x2="171.15" y2="312.90" stroke="#111" stroke-width="0.9"/>
<line x1="186.00" y1="309.90" x2="186.00" y2="312.90" stroke="#111" stroke-width="0.9"/>
<line x1="200.85" y1="309.90" x2="200.85" y2="312.90" stroke="#111" stroke-width="0.9"/>
<line x1="215.70" y1="309.90" x2="215.70" y2="312.90" stroke="#111" stroke-width="0.9"/>
<line x1="230.55" y1="309.90" x2="230.55" y2="312.90" stroke="#111" stroke-width="0.9"/>
<line x1="245.40" y1="309.90" x2="245.40" y2="312.90" stroke="#111" stroke-width="0.9"/>
<text x="160.20" y="242.60" font-size="7.0" textLength="85.10" lengthAdjust="spacingAndGlyphs">Nalm6-KO19 (CD19<tspan font-size="4.6" dy="-2.6">−</tspan><tspan dy="2.6">​</tspan>CD22<tspan font-size="4.6" dy="-2.6">+</tspan><tspan dy="2.6">​</tspan>)</text>
<text transform="translate(136.70 279.40) rotate(-90)" font-size="6.4" text-anchor="middle" textLength="43.00" lengthAdjust="spacingAndGlyphs">Cytotoxicity (%)</text>
<text transform="translate(149.60 312.20) scale(0.94 1)" font-size="6.5" text-anchor="end">0</text>
<text transform="translate(149.60 297.34) scale(0.94 1)" font-size="6.5" text-anchor="end">20</text>
<text transform="translate(149.60 282.48) scale(0.94 1)" font-size="6.5" text-anchor="end">40</text>
<text transform="translate(149.60 267.62) scale(0.94 1)" font-size="6.5" text-anchor="end">60</text>
<text transform="translate(149.60 252.76) scale(0.94 1)" font-size="6.5" text-anchor="end">80</text>
<text transform="translate(156.70 322.80) scale(0.93 1)" font-size="7.0" text-anchor="middle">10<tspan font-size="4.30" dy="-2.60">−2</tspan></text>
<text transform="translate(171.55 322.80) scale(0.93 1)" font-size="7.0" text-anchor="middle">10<tspan font-size="4.30" dy="-2.60">−1</tspan></text>
<text transform="translate(186.40 322.80) scale(0.93 1)" font-size="7.0" text-anchor="middle">10<tspan font-size="4.30" dy="-2.60">0</tspan></text>
<text transform="translate(201.25 322.80) scale(0.93 1)" font-size="7.0" text-anchor="middle">10<tspan font-size="4.30" dy="-2.60">1</tspan></text>
<text transform="translate(216.10 322.80) scale(0.93 1)" font-size="7.0" text-anchor="middle">10<tspan font-size="4.30" dy="-2.60">2</tspan></text>
<text transform="translate(230.95 322.80) scale(0.93 1)" font-size="7.0" text-anchor="middle">10<tspan font-size="4.30" dy="-2.60">3</tspan></text>
<text transform="translate(245.80 322.80) scale(0.93 1)" font-size="7.0" text-anchor="middle">10<tspan font-size="4.30" dy="-2.60">4</tspan></text>
<text x="202.80" y="334.30" font-size="7.7" text-anchor="middle" textLength="52.50" lengthAdjust="spacingAndGlyphs">Concentration (pM)</text>
<line x1="171.15" y1="304.70" x2="171.15" y2="300.24" stroke="#c8102e" stroke-width="0.8"/>
<line x1="169.35" y1="300.24" x2="172.95" y2="300.24" stroke="#c8102e" stroke-width="0.8"/>
<line x1="171.15" y1="304.70" x2="171.15" y2="308.41" stroke="#c8102e" stroke-width="0.8"/>
<line x1="169.35" y1="308.41" x2="172.95" y2="308.41" stroke="#c8102e" stroke-width="0.8"/>
<line x1="186.00" y1="305.44" x2="186.00" y2="300.98" stroke="#1b4a86" stroke-width="0.8"/>
<line x1="184.20" y1="300.98" x2="187.80" y2="300.98" stroke="#1b4a86" stroke-width="0.8"/>
<line x1="200.85" y1="300.98" x2="200.85" y2="297.64" stroke="#c8102e" stroke-width="0.8"/>
<line x1="199.05" y1="297.64" x2="202.65" y2="297.64" stroke="#c8102e" stroke-width="0.8"/>
<line x1="230.55" y1="303.81" x2="230.55" y2="299.50" stroke="#1b4a86" stroke-width="0.8"/>
<line x1="228.75" y1="299.50" x2="232.35" y2="299.50" stroke="#1b4a86" stroke-width="0.8"/>
<line x1="230.55" y1="263.09" x2="230.55" y2="266.81" stroke="#c8102e" stroke-width="0.8"/>
<line x1="228.75" y1="266.81" x2="232.35" y2="266.81" stroke="#c8102e" stroke-width="0.8"/>
<polyline points="171.15,306.56 171.89,306.56 172.64,306.56 173.38,306.56 174.12,306.56 174.86,306.56 175.61,306.56 176.35,306.56 177.09,306.56 177.83,306.56 178.58,306.56 179.32,306.56 180.06,306.56 180.80,306.56 181.55,306.56 182.29,306.56 183.03,306.56 183.77,306.56 184.52,306.56 185.26,306.56 186.00,306.56 186.74,306.56 187.49,306.56 188.23,306.56 188.97,306.56 189.71,306.56 190.46,306.55 191.20,306.55 191.94,306.55 192.68,306.55 193.43,306.55 194.17,306.55 194.91,306.55 195.65,306.55 196.40,306.55 197.14,306.55 197.88,306.55 198.62,306.55 199.37,306.54 200.11,306.54 200.85,306.54 201.59,306.54 202.34,306.53 203.08,306.53 203.82,306.52 204.56,306.52 205.31,306.51 206.05,306.50 206.79,306.49 207.53,306.48 208.28,306.46 209.02,306.44 209.76,306.42 210.50,306.40 211.25,306.37 211.99,306.34 212.73,306.30 213.47,306.26 214.22,306.21 214.96,306.15 215.70,306.09 216.44,306.01 217.19,305.93 217.93,305.84 218.67,305.74 219.41,305.63 220.16,305.51 220.90,305.39 221.64,305.26 222.38,305.13 223.12,305.00 223.87,304.86 224.61,304.73 225.35,304.60 226.10,304.48 226.84,304.36 227.58,304.25 228.32,304.15 229.06,304.06 229.81,303.98 230.55,303.91" fill="none" stroke="#1b4a86" stroke-width="1.1" stroke-linejoin="round"/>
<polyline points="171.15,309.90 171.89,309.89 172.64,309.89 173.38,309.89 174.12,309.89 174.86,309.89 175.61,309.89 176.35,309.89 177.09,309.88 177.83,309.88 178.58,309.88 179.32,309.87 180.06,309.87 180.80,309.86 181.55,309.86 182.29,309.85 183.03,309.84 183.77,309.83 184.52,309.82 185.26,309.80 186.00,309.79 186.74,309.77 187.49,309.74 188.23,309.72 188.97,309.68 189.71,309.65 190.46,309.60 191.20,309.55 191.94,309.49 192.68,309.42 193.43,309.34 194.17,309.24 194.91,309.12 195.65,308.99 196.40,308.84 197.14,308.65 197.88,308.44 198.62,308.20 199.37,307.91 200.11,307.58 200.85,307.19 201.59,306.75 202.34,306.23 203.08,305.64 203.82,304.97 204.56,304.20 205.31,303.33 206.05,302.35 206.79,301.25 207.53,300.02 208.28,298.67 209.02,297.18 209.76,295.57 210.50,293.84 211.25,292.00 211.99,290.06 212.73,288.05 213.47,285.99 214.22,283.89 214.96,281.80 215.70,279.74 216.44,277.73 217.19,275.79 217.93,273.95 218.67,272.22 219.41,270.61 220.16,269.12 220.90,267.77 221.64,266.54 222.38,265.44 223.12,264.46 223.87,263.59 224.61,262.82 225.35,262.15 226.10,261.56 226.84,261.04 227.58,260.60 228.32,260.21 229.06,259.88 229.81,259.59 230.55,259.35" fill="none" stroke="#265d92" stroke-width="1.1" stroke-linejoin="round"/>
<polyline points="171.15,306.17 171.89,306.17 172.64,306.16 173.38,306.16 174.12,306.16 174.86,306.15 175.61,306.15 176.35,306.14 177.09,306.13 177.83,306.12 178.58,306.11 179.32,306.10 180.06,306.09 180.80,306.07 181.55,306.06 182.29,306.04 183.03,306.01 183.77,305.98 184.52,305.95 185.26,305.91 186.00,305.87 186.74,305.81 187.49,305.75 188.23,305.68 188.97,305.60 189.71,305.51 190.46,305.40 191.20,305.27 191.94,305.13 192.68,304.96 193.43,304.76 194.17,304.54 194.91,304.28 195.65,303.98 196.40,303.64 197.14,303.24 197.88,302.79 198.62,302.28 199.37,301.70 200.11,301.04 200.85,300.30 201.59,299.47 202.34,298.54 203.08,297.52 203.82,296.38 204.56,295.14 205.31,293.79 206.05,292.34 206.79,290.79 207.53,289.16 208.28,287.45 209.02,285.68 209.76,283.87 210.50,282.04 211.25,280.21 211.99,278.40 212.73,276.63 213.47,274.92 214.22,273.28 214.96,271.73 215.70,270.28 216.44,268.93 217.19,267.69 217.93,266.56 218.67,265.53 219.41,264.60 220.16,263.77 220.90,263.03 221.64,262.37 222.38,261.79 223.12,261.28 223.87,260.83 224.61,260.44 225.35,260.10 226.10,259.80 226.84,259.54 227.58,259.31 228.32,259.12 229.06,258.95 229.81,258.80 230.55,258.67" fill="none" stroke="#c8102e" stroke-width="1.2" stroke-linejoin="round"/>
<path d="M168.60,306.88 L173.70,306.88 L171.15,310.84 Z" fill="#fff" stroke="#265d92" stroke-width="0.9" stroke-linejoin="round"/>
<path d="M183.45,306.14 L188.55,306.14 L186.00,310.09 Z" fill="#fff" stroke="#265d92" stroke-width="0.9" stroke-linejoin="round"/>
<path d="M198.30,306.14 L203.40,306.14 L200.85,310.09 Z" fill="#fff" stroke="#265d92" stroke-width="0.9" stroke-linejoin="round"/>
<path d="M213.15,277.54 L218.25,277.54 L215.70,281.49 Z" fill="#fff" stroke="#265d92" stroke-width="0.9" stroke-linejoin="round"/>
<path d="M228.00,257.85 L233.10,257.85 L230.55,261.80 Z" fill="#fff" stroke="#265d92" stroke-width="0.9" stroke-linejoin="round"/>
<path d="M169.00,307.87 L173.30,307.87 L171.15,311.20 Z" fill="#1b4a86" stroke="#1b4a86" stroke-width="0.5" stroke-linejoin="round"/>
<path d="M183.85,307.87 L188.15,307.87 L186.00,311.20 Z" fill="#1b4a86" stroke="#1b4a86" stroke-width="0.5" stroke-linejoin="round"/>
<path d="M198.70,305.79 L203.00,305.79 L200.85,309.12 Z" fill="#1b4a86" stroke="#1b4a86" stroke-width="0.5" stroke-linejoin="round"/>
<path d="M213.55,304.15 L217.85,304.15 L215.70,307.48 Z" fill="#1b4a86" stroke="#1b4a86" stroke-width="0.5" stroke-linejoin="round"/>
<path d="M228.40,302.52 L232.70,302.52 L230.55,305.85 Z" fill="#1b4a86" stroke="#1b4a86" stroke-width="0.5" stroke-linejoin="round"/>
<circle cx="171.15" cy="304.70" r="2.35" fill="#c8102e"/>
<circle cx="186.00" cy="305.44" r="2.35" fill="#c8102e"/>
<circle cx="200.85" cy="300.98" r="2.35" fill="#c8102e"/>
<circle cx="215.70" cy="264.58" r="2.35" fill="#c8102e"/>
<circle cx="230.55" cy="263.09" r="2.35" fill="#c8102e"/>
<line x1="290.40" y1="248.40" x2="290.40" y2="310.60" stroke="#111" stroke-width="1.3"/>
<line x1="289.80" y1="310.10" x2="382.30" y2="310.10" stroke="#111" stroke-width="1.5"/>
<line x1="287.40" y1="310.10" x2="290.40" y2="310.10" stroke="#111" stroke-width="0.9"/>
<line x1="287.40" y1="298.16" x2="290.40" y2="298.16" stroke="#111" stroke-width="0.9"/>
<line x1="287.40" y1="286.22" x2="290.40" y2="286.22" stroke="#111" stroke-width="0.9"/>
<line x1="287.40" y1="274.28" x2="290.40" y2="274.28" stroke="#111" stroke-width="0.9"/>
<line x1="287.40" y1="262.34" x2="290.40" y2="262.34" stroke="#111" stroke-width="0.9"/>
<line x1="287.40" y1="250.40" x2="290.40" y2="250.40" stroke="#111" stroke-width="0.9"/>
<line x1="288.60" y1="307.71" x2="290.40" y2="307.71" stroke="#111" stroke-width="0.7"/>
<line x1="288.60" y1="305.32" x2="290.40" y2="305.32" stroke="#111" stroke-width="0.7"/>
<line x1="288.60" y1="302.94" x2="290.40" y2="302.94" stroke="#111" stroke-width="0.7"/>
<line x1="288.60" y1="300.55" x2="290.40" y2="300.55" stroke="#111" stroke-width="0.7"/>
<line x1="288.60" y1="295.77" x2="290.40" y2="295.77" stroke="#111" stroke-width="0.7"/>
<line x1="288.60" y1="293.38" x2="290.40" y2="293.38" stroke="#111" stroke-width="0.7"/>
<line x1="288.60" y1="291.00" x2="290.40" y2="291.00" stroke="#111" stroke-width="0.7"/>
<line x1="288.60" y1="288.61" x2="290.40" y2="288.61" stroke="#111" stroke-width="0.7"/>
<line x1="288.60" y1="283.83" x2="290.40" y2="283.83" stroke="#111" stroke-width="0.7"/>
<line x1="288.60" y1="281.44" x2="290.40" y2="281.44" stroke="#111" stroke-width="0.7"/>
<line x1="288.60" y1="279.06" x2="290.40" y2="279.06" stroke="#111" stroke-width="0.7"/>
<line x1="288.60" y1="276.67" x2="290.40" y2="276.67" stroke="#111" stroke-width="0.7"/>
<line x1="288.60" y1="271.89" x2="290.40" y2="271.89" stroke="#111" stroke-width="0.7"/>
<line x1="288.60" y1="269.50" x2="290.40" y2="269.50" stroke="#111" stroke-width="0.7"/>
<line x1="288.60" y1="267.12" x2="290.40" y2="267.12" stroke="#111" stroke-width="0.7"/>
<line x1="288.60" y1="264.73" x2="290.40" y2="264.73" stroke="#111" stroke-width="0.7"/>
<line x1="288.60" y1="259.95" x2="290.40" y2="259.95" stroke="#111" stroke-width="0.7"/>
<line x1="288.60" y1="257.56" x2="290.40" y2="257.56" stroke="#111" stroke-width="0.7"/>
<line x1="288.60" y1="255.18" x2="290.40" y2="255.18" stroke="#111" stroke-width="0.7"/>
<line x1="288.60" y1="252.79" x2="290.40" y2="252.79" stroke="#111" stroke-width="0.7"/>
<line x1="290.40" y1="310.10" x2="290.40" y2="313.10" stroke="#111" stroke-width="0.9"/>
<line x1="305.35" y1="310.10" x2="305.35" y2="313.10" stroke="#111" stroke-width="0.9"/>
<line x1="320.30" y1="310.10" x2="320.30" y2="313.10" stroke="#111" stroke-width="0.9"/>
<line x1="335.25" y1="310.10" x2="335.25" y2="313.10" stroke="#111" stroke-width="0.9"/>
<line x1="350.20" y1="310.10" x2="350.20" y2="313.10" stroke="#111" stroke-width="0.9"/>
<line x1="365.15" y1="310.10" x2="365.15" y2="313.10" stroke="#111" stroke-width="0.9"/>
<line x1="380.10" y1="310.10" x2="380.10" y2="313.10" stroke="#111" stroke-width="0.9"/>
<text x="294.10" y="242.60" font-size="7.0" textLength="84.20" lengthAdjust="spacingAndGlyphs">Nalm6-KO22 (CD19<tspan font-size="4.6" dy="-2.6">+</tspan><tspan dy="2.6">​</tspan>CD22<tspan font-size="4.6" dy="-2.6">−</tspan><tspan dy="2.6">​</tspan>)</text>
<text transform="translate(267.00 279.40) rotate(-90)" font-size="6.4" text-anchor="middle" textLength="43.00" lengthAdjust="spacingAndGlyphs">Cytotoxicity (%)</text>
<text transform="translate(283.60 312.40) scale(0.94 1)" font-size="6.5" text-anchor="end">0</text>
<text transform="translate(283.60 300.46) scale(0.94 1)" font-size="6.5" text-anchor="end">20</text>
<text transform="translate(283.60 288.52) scale(0.94 1)" font-size="6.5" text-anchor="end">40</text>
<text transform="translate(283.60 276.58) scale(0.94 1)" font-size="6.5" text-anchor="end">60</text>
<text transform="translate(283.60 264.64) scale(0.94 1)" font-size="6.5" text-anchor="end">80</text>
<text transform="translate(283.60 252.70) scale(0.94 1)" font-size="6.5" text-anchor="end">100</text>
<text transform="translate(290.80 322.80) scale(0.93 1)" font-size="7.0" text-anchor="middle">10<tspan font-size="4.30" dy="-2.60">−2</tspan></text>
<text transform="translate(305.75 322.80) scale(0.93 1)" font-size="7.0" text-anchor="middle">10<tspan font-size="4.30" dy="-2.60">−1</tspan></text>
<text transform="translate(320.70 322.80) scale(0.93 1)" font-size="7.0" text-anchor="middle">10<tspan font-size="4.30" dy="-2.60">0</tspan></text>
<text transform="translate(335.65 322.80) scale(0.93 1)" font-size="7.0" text-anchor="middle">10<tspan font-size="4.30" dy="-2.60">1</tspan></text>
<text transform="translate(350.60 322.80) scale(0.93 1)" font-size="7.0" text-anchor="middle">10<tspan font-size="4.30" dy="-2.60">2</tspan></text>
<text transform="translate(365.55 322.80) scale(0.93 1)" font-size="7.0" text-anchor="middle">10<tspan font-size="4.30" dy="-2.60">3</tspan></text>
<text transform="translate(380.50 322.80) scale(0.93 1)" font-size="7.0" text-anchor="middle">10<tspan font-size="4.30" dy="-2.60">4</tspan></text>
<text x="336.40" y="334.30" font-size="7.7" text-anchor="middle" textLength="52.50" lengthAdjust="spacingAndGlyphs">Concentration (pM)</text>
<line x1="320.30" y1="292.19" x2="320.30" y2="288.61" stroke="#1b4a86" stroke-width="0.8"/>
<line x1="318.50" y1="288.61" x2="322.10" y2="288.61" stroke="#1b4a86" stroke-width="0.8"/>
<line x1="320.30" y1="292.19" x2="320.30" y2="295.77" stroke="#1b4a86" stroke-width="0.8"/>
<line x1="318.50" y1="295.77" x2="322.10" y2="295.77" stroke="#1b4a86" stroke-width="0.8"/>
<line x1="350.20" y1="300.25" x2="350.20" y2="298.16" stroke="#265d92" stroke-width="0.8"/>
<line x1="348.40" y1="298.16" x2="352.00" y2="298.16" stroke="#265d92" stroke-width="0.8"/>
<line x1="350.20" y1="300.25" x2="350.20" y2="302.94" stroke="#265d92" stroke-width="0.8"/>
<line x1="348.40" y1="302.94" x2="352.00" y2="302.94" stroke="#265d92" stroke-width="0.8"/>
<polyline points="305.35,303.23 306.10,303.23 306.84,303.23 307.59,303.23 308.34,303.23 309.09,303.23 309.83,303.23 310.58,303.23 311.33,303.23 312.08,303.23 312.82,303.23 313.57,303.23 314.32,303.23 315.07,303.22 315.81,303.22 316.56,303.22 317.31,303.22 318.06,303.22 318.80,303.22 319.55,303.22 320.30,303.21 321.05,303.21 321.79,303.21 322.54,303.20 323.29,303.20 324.04,303.20 324.78,303.19 325.53,303.19 326.28,303.18 327.03,303.17 327.77,303.17 328.52,303.16 329.27,303.15 330.02,303.14 330.76,303.13 331.51,303.11 332.26,303.10 333.01,303.08 333.75,303.07 334.50,303.04 335.25,303.02 336.00,303.00 336.75,302.97 337.49,302.94 338.24,302.90 338.99,302.86 339.73,302.82 340.48,302.77 341.23,302.72 341.98,302.66 342.72,302.60 343.47,302.53 344.22,302.45 344.97,302.36 345.71,302.27 346.46,302.16 347.21,302.05 347.96,301.93 348.70,301.79 349.45,301.65 350.20,301.50 350.95,301.33 351.69,301.15 352.44,300.97 353.19,300.77 353.94,300.56 354.68,300.34 355.43,300.12 356.18,299.89 356.93,299.65 357.67,299.40 358.42,299.16 359.17,298.91 359.92,298.66 360.66,298.41 361.41,298.17 362.16,297.93 362.91,297.69 363.65,297.47 364.40,297.25 365.15,297.04" fill="none" stroke="#265d92" stroke-width="1.1" stroke-linejoin="round"/>
<polyline points="305.35,304.21 306.10,304.13 306.84,304.04 307.59,303.93 308.34,303.81 309.09,303.68 309.83,303.52 310.58,303.34 311.33,303.13 312.08,302.89 312.82,302.62 313.57,302.31 314.32,301.96 315.07,301.56 315.81,301.11 316.56,300.60 317.31,300.03 318.06,299.39 318.80,298.67 319.55,297.88 320.30,297.00 321.05,296.03 321.79,294.97 322.54,293.83 323.29,292.59 324.04,291.27 324.78,289.87 325.53,288.40 326.28,286.86 327.03,285.28 327.77,283.67 328.52,282.04 329.27,280.41 330.02,278.80 330.76,277.22 331.51,275.69 332.26,274.21 333.01,272.81 333.75,271.49 334.50,270.26 335.25,269.11 336.00,268.05 336.75,267.08 337.49,266.21 338.24,265.41 338.99,264.69 339.73,264.05 340.48,263.48 341.23,262.97 341.98,262.52 342.72,262.12 343.47,261.77 344.22,261.46 344.97,261.19 345.71,260.95 346.46,260.75 347.21,260.56 347.96,260.41 348.70,260.27 349.45,260.15 350.20,260.04 350.95,259.95 351.69,259.87 352.44,259.80 353.19,259.74 353.94,259.69 354.68,259.65 355.43,259.61 356.18,259.57 356.93,259.55 357.67,259.52 358.42,259.50 359.17,259.48 359.92,259.46 360.66,259.45 361.41,259.44 362.16,259.42 362.91,259.42 363.65,259.41 364.40,259.40 365.15,259.39" fill="none" stroke="#1b4a86" stroke-width="1.1" stroke-linejoin="round"/>
<polyline points="305.35,298.37 306.10,297.93 306.84,297.45 307.59,296.93 308.34,296.37 309.09,295.77 309.83,295.12 310.58,294.43 311.33,293.70 312.08,292.91 312.82,292.08 313.57,291.21 314.32,290.29 315.07,289.33 315.81,288.33 316.56,287.29 317.31,286.22 318.06,285.12 318.80,284.00 319.55,282.86 320.30,281.71 321.05,280.55 321.79,279.39 322.54,278.24 323.29,277.10 324.04,275.97 324.78,274.88 325.53,273.81 326.28,272.77 327.03,271.77 327.77,270.81 328.52,269.89 329.27,269.01 330.02,268.18 330.76,267.40 331.51,266.66 332.26,265.97 333.01,265.33 333.75,264.73 334.50,264.17 335.25,263.65 336.00,263.17 336.75,262.72 337.49,262.32 338.24,261.94 338.99,261.60 339.73,261.28 340.48,261.00 341.23,260.73 341.98,260.49 342.72,260.27 343.47,260.08 344.22,259.89 344.97,259.73 345.71,259.58 346.46,259.44 347.21,259.32 347.96,259.21 348.70,259.11 349.45,259.02 350.20,258.93 350.95,258.86 351.69,258.79 352.44,258.73 353.19,258.68 353.94,258.62 354.68,258.58 355.43,258.54 356.18,258.50 356.93,258.47 357.67,258.44 358.42,258.41 359.17,258.39 359.92,258.36 360.66,258.34 361.41,258.33 362.16,258.31 362.91,258.30 363.65,258.28 364.40,258.27 365.15,258.26" fill="none" stroke="#c8102e" stroke-width="1.2" stroke-linejoin="round"/>
<path d="M302.80,302.60 L307.90,302.60 L305.35,306.55 Z" fill="#fff" stroke="#265d92" stroke-width="0.9" stroke-linejoin="round"/>
<path d="M317.75,302.60 L322.85,302.60 L320.30,306.55 Z" fill="#fff" stroke="#265d92" stroke-width="0.9" stroke-linejoin="round"/>
<path d="M332.70,301.41 L337.80,301.41 L335.25,305.36 Z" fill="#fff" stroke="#265d92" stroke-width="0.9" stroke-linejoin="round"/>
<path d="M347.65,298.72 L352.75,298.72 L350.20,302.67 Z" fill="#fff" stroke="#265d92" stroke-width="0.9" stroke-linejoin="round"/>
<path d="M362.60,295.44 L367.70,295.44 L365.15,299.39 Z" fill="#fff" stroke="#265d92" stroke-width="0.9" stroke-linejoin="round"/>
<path d="M303.20,304.03 L307.50,304.03 L305.35,307.37 Z" fill="#1b4a86" stroke="#1b4a86" stroke-width="0.5" stroke-linejoin="round"/>
<path d="M318.15,290.90 L322.45,290.90 L320.30,294.23 Z" fill="#1b4a86" stroke="#1b4a86" stroke-width="0.5" stroke-linejoin="round"/>
<path d="M333.10,267.02 L337.40,267.02 L335.25,270.35 Z" fill="#1b4a86" stroke="#1b4a86" stroke-width="0.5" stroke-linejoin="round"/>
<path d="M348.05,258.06 L352.35,258.06 L350.20,261.40 Z" fill="#1b4a86" stroke="#1b4a86" stroke-width="0.5" stroke-linejoin="round"/>
<path d="M363.00,258.66 L367.30,258.66 L365.15,261.99 Z" fill="#1b4a86" stroke="#1b4a86" stroke-width="0.5" stroke-linejoin="round"/>
<circle cx="305.35" cy="299.12" r="2.35" fill="#c8102e"/>
<circle cx="320.30" cy="280.85" r="2.35" fill="#c8102e"/>
<circle cx="335.25" cy="266.52" r="2.35" fill="#c8102e"/>
<circle cx="350.20" cy="258.76" r="2.35" fill="#c8102e"/>
<circle cx="365.15" cy="257.56" r="2.35" fill="#c8102e"/>
<line x1="425.40" y1="247.90" x2="425.40" y2="310.40" stroke="#111" stroke-width="1.3"/>
<line x1="424.80" y1="309.90" x2="517.00" y2="309.90" stroke="#111" stroke-width="1.5"/>
<line x1="422.40" y1="309.90" x2="425.40" y2="309.90" stroke="#111" stroke-width="0.9"/>
<line x1="422.40" y1="297.90" x2="425.40" y2="297.90" stroke="#111" stroke-width="0.9"/>
<line x1="422.40" y1="285.90" x2="425.40" y2="285.90" stroke="#111" stroke-width="0.9"/>
<line x1="422.40" y1="273.90" x2="425.40" y2="273.90" stroke="#111" stroke-width="0.9"/>
<line x1="422.40" y1="261.90" x2="425.40" y2="261.90" stroke="#111" stroke-width="0.9"/>
<line x1="422.40" y1="249.90" x2="425.40" y2="249.90" stroke="#111" stroke-width="0.9"/>
<line x1="423.60" y1="307.50" x2="425.40" y2="307.50" stroke="#111" stroke-width="0.7"/>
<line x1="423.60" y1="305.10" x2="425.40" y2="305.10" stroke="#111" stroke-width="0.7"/>
<line x1="423.60" y1="302.70" x2="425.40" y2="302.70" stroke="#111" stroke-width="0.7"/>
<line x1="423.60" y1="300.30" x2="425.40" y2="300.30" stroke="#111" stroke-width="0.7"/>
<line x1="423.60" y1="295.50" x2="425.40" y2="295.50" stroke="#111" stroke-width="0.7"/>
<line x1="423.60" y1="293.10" x2="425.40" y2="293.10" stroke="#111" stroke-width="0.7"/>
<line x1="423.60" y1="290.70" x2="425.40" y2="290.70" stroke="#111" stroke-width="0.7"/>
<line x1="423.60" y1="288.30" x2="425.40" y2="288.30" stroke="#111" stroke-width="0.7"/>
<line x1="423.60" y1="283.50" x2="425.40" y2="283.50" stroke="#111" stroke-width="0.7"/>
<line x1="423.60" y1="281.10" x2="425.40" y2="281.10" stroke="#111" stroke-width="0.7"/>
<line x1="423.60" y1="278.70" x2="425.40" y2="278.70" stroke="#111" stroke-width="0.7"/>
<line x1="423.60" y1="276.30" x2="425.40" y2="276.30" stroke="#111" stroke-width="0.7"/>
<line x1="423.60" y1="271.50" x2="425.40" y2="271.50" stroke="#111" stroke-width="0.7"/>
<line x1="423.60" y1="269.10" x2="425.40" y2="269.10" stroke="#111" stroke-width="0.7"/>
<line x1="423.60" y1="266.70" x2="425.40" y2="266.70" stroke="#111" stroke-width="0.7"/>
<line x1="423.60" y1="264.30" x2="425.40" y2="264.30" stroke="#111" stroke-width="0.7"/>
<line x1="423.60" y1="259.50" x2="425.40" y2="259.50" stroke="#111" stroke-width="0.7"/>
<line x1="423.60" y1="257.10" x2="425.40" y2="257.10" stroke="#111" stroke-width="0.7"/>
<line x1="423.60" y1="254.70" x2="425.40" y2="254.70" stroke="#111" stroke-width="0.7"/>
<line x1="423.60" y1="252.30" x2="425.40" y2="252.30" stroke="#111" stroke-width="0.7"/>
<line x1="425.40" y1="309.90" x2="425.40" y2="312.90" stroke="#111" stroke-width="0.9"/>
<line x1="440.25" y1="309.90" x2="440.25" y2="312.90" stroke="#111" stroke-width="0.9"/>
<line x1="455.10" y1="309.90" x2="455.10" y2="312.90" stroke="#111" stroke-width="0.9"/>
<line x1="469.95" y1="309.90" x2="469.95" y2="312.90" stroke="#111" stroke-width="0.9"/>
<line x1="484.80" y1="309.90" x2="484.80" y2="312.90" stroke="#111" stroke-width="0.9"/>
<line x1="499.65" y1="309.90" x2="499.65" y2="312.90" stroke="#111" stroke-width="0.9"/>
<line x1="514.50" y1="309.90" x2="514.50" y2="312.90" stroke="#111" stroke-width="0.9"/>
<text x="441.90" y="242.60" font-size="7.0" textLength="59.20" lengthAdjust="spacingAndGlyphs">K562 (CD19<tspan font-size="4.6" dy="-2.6">−</tspan><tspan dy="2.6">​</tspan>CD22<tspan font-size="4.6" dy="-2.6">−</tspan><tspan dy="2.6">​</tspan>)</text>
<text transform="translate(401.50 279.40) rotate(-90)" font-size="6.4" text-anchor="middle" textLength="43.00" lengthAdjust="spacingAndGlyphs">Cytotoxicity (%)</text>
<text transform="translate(418.50 312.20) scale(0.94 1)" font-size="6.5" text-anchor="end">0</text>
<text transform="translate(418.50 300.20) scale(0.94 1)" font-size="6.5" text-anchor="end">20</text>
<text transform="translate(418.50 288.20) scale(0.94 1)" font-size="6.5" text-anchor="end">40</text>
<text transform="translate(418.50 276.20) scale(0.94 1)" font-size="6.5" text-anchor="end">60</text>
<text transform="translate(418.50 264.20) scale(0.94 1)" font-size="6.5" text-anchor="end">80</text>
<text transform="translate(418.50 252.20) scale(0.94 1)" font-size="6.5" text-anchor="end">100</text>
<text transform="translate(425.80 322.80) scale(0.93 1)" font-size="7.0" text-anchor="middle">10<tspan font-size="4.30" dy="-2.60">−2</tspan></text>
<text transform="translate(440.65 322.80) scale(0.93 1)" font-size="7.0" text-anchor="middle">10<tspan font-size="4.30" dy="-2.60">−1</tspan></text>
<text transform="translate(455.50 322.80) scale(0.93 1)" font-size="7.0" text-anchor="middle">10<tspan font-size="4.30" dy="-2.60">0</tspan></text>
<text transform="translate(470.35 322.80) scale(0.93 1)" font-size="7.0" text-anchor="middle">10<tspan font-size="4.30" dy="-2.60">1</tspan></text>
<text transform="translate(485.20 322.80) scale(0.93 1)" font-size="7.0" text-anchor="middle">10<tspan font-size="4.30" dy="-2.60">2</tspan></text>
<text transform="translate(500.05 322.80) scale(0.93 1)" font-size="7.0" text-anchor="middle">10<tspan font-size="4.30" dy="-2.60">3</tspan></text>
<text transform="translate(514.90 322.80) scale(0.93 1)" font-size="7.0" text-anchor="middle">10<tspan font-size="4.30" dy="-2.60">4</tspan></text>
<text x="470.30" y="334.30" font-size="7.7" text-anchor="middle" textLength="52.50" lengthAdjust="spacingAndGlyphs">Concentration (pM)</text>
<line x1="440.25" y1="304.50" x2="440.25" y2="301.50" stroke="#1b4a86" stroke-width="0.8"/>
<line x1="438.45" y1="301.50" x2="442.05" y2="301.50" stroke="#1b4a86" stroke-width="0.8"/>
<line x1="499.65" y1="303.90" x2="499.65" y2="301.50" stroke="#1b4a86" stroke-width="0.8"/>
<line x1="497.85" y1="301.50" x2="501.45" y2="301.50" stroke="#1b4a86" stroke-width="0.8"/>
<polyline points="440.25,304.20 440.99,304.20 441.73,304.20 442.48,304.20 443.22,304.20 443.96,304.21 444.70,304.21 445.45,304.21 446.19,304.22 446.93,304.22 447.67,304.23 448.42,304.24 449.16,304.25 449.90,304.26 450.64,304.28 451.39,304.31 452.13,304.35 452.87,304.39 453.61,304.46 454.36,304.53 455.10,304.64 455.84,304.76 456.58,304.92 457.33,305.12 458.07,305.35 458.81,305.62 459.55,305.93 460.30,306.26 461.04,306.60 461.78,306.94 462.52,307.27 463.27,307.58 464.01,307.85 464.75,308.08 465.50,308.28 466.24,308.44 466.98,308.56 467.72,308.67 468.46,308.74 469.21,308.81 469.95,308.85 470.69,308.89 471.44,308.92 472.18,308.94 472.92,308.95 473.66,308.96 474.40,308.97 475.15,308.98 475.89,308.98 476.63,308.99 477.38,308.99 478.12,308.99 478.86,309.00 479.60,309.00 480.34,309.00 481.09,309.00 481.83,309.00 482.57,309.00 483.31,309.00 484.06,309.00 484.80,309.00 485.54,309.00 486.28,309.00 487.03,309.00 487.77,309.00 488.51,309.00 489.25,309.00 490.00,309.00 490.74,309.00 491.48,309.00 492.22,309.00 492.97,309.00 493.71,309.00 494.45,309.00 495.19,309.00 495.94,309.00 496.68,309.00 497.42,309.00 498.16,309.00 498.91,309.00 499.65,309.00" fill="none" stroke="#265d92" stroke-width="1.0" stroke-linejoin="round"/>
<polyline points="440.25,308.10 440.99,308.10 441.73,308.10 442.48,308.10 443.22,308.10 443.96,308.10 444.70,308.10 445.45,308.10 446.19,308.10 446.93,308.10 447.67,308.10 448.42,308.10 449.16,308.10 449.90,308.10 450.64,308.10 451.39,308.10 452.13,308.10 452.87,308.10 453.61,308.10 454.36,308.10 455.10,308.10 455.84,308.10 456.58,308.10 457.33,308.10 458.07,308.10 458.81,308.10 459.55,308.10 460.30,308.10 461.04,308.10 461.78,308.10 462.52,308.10 463.27,308.10 464.01,308.10 464.75,308.10 465.50,308.10 466.24,308.10 466.98,308.10 467.72,308.10 468.46,308.10 469.21,308.10 469.95,308.10 470.69,308.10 471.44,308.10 472.18,308.10 472.92,308.10 473.66,308.10 474.40,308.10 475.15,308.10 475.89,308.10 476.63,308.10 477.38,308.10 478.12,308.10 478.86,308.10 479.60,308.10 480.34,308.10 481.09,308.10 481.83,308.10 482.57,308.10 483.31,308.10 484.06,308.10 484.80,308.10 485.54,308.10 486.28,308.10 487.03,308.10 487.77,308.10 488.51,308.10 489.25,308.10 490.00,308.10 490.74,308.10 491.48,308.10 492.22,308.10 492.97,308.10 493.71,308.10 494.45,308.10 495.19,308.10 495.94,308.10 496.68,308.10 497.42,308.10 498.16,308.10 498.91,308.10 499.65,308.10" fill="none" stroke="#1b4a86" stroke-width="0.9" stroke-linejoin="round"/>
<polyline points="440.25,304.20 440.99,304.20 441.73,304.19 442.48,304.19 443.22,304.18 443.96,304.18 444.70,304.17 445.45,304.17 446.19,304.16 446.93,304.16 447.67,304.15 448.42,304.15 449.16,304.15 449.90,304.14 450.64,304.14 451.39,304.13 452.13,304.13 452.87,304.12 453.61,304.12 454.36,304.11 455.10,304.11 455.84,304.11 456.58,304.10 457.33,304.10 458.07,304.09 458.81,304.09 459.55,304.08 460.30,304.08 461.04,304.07 461.78,304.07 462.52,304.06 463.27,304.06 464.01,304.06 464.75,304.05 465.50,304.05 466.24,304.04 466.98,304.04 467.72,304.03 468.46,304.03 469.21,304.02 469.95,304.02 470.69,304.02 471.44,304.01 472.18,304.01 472.92,304.00 473.66,304.00 474.40,303.99 475.15,303.99 475.89,303.98 476.63,303.98 477.38,303.97 478.12,303.97 478.86,303.97 479.60,303.96 480.34,303.96 481.09,303.95 481.83,303.95 482.57,303.94 483.31,303.94 484.06,303.93 484.80,303.93 485.54,303.93 486.28,303.92 487.03,303.92 487.77,303.91 488.51,303.91 489.25,303.90 490.00,303.90 490.74,303.89 491.48,303.89 492.22,303.88 492.97,303.88 493.71,303.88 494.45,303.87 495.19,303.87 495.94,303.86 496.68,303.86 497.42,303.85 498.16,303.85 498.91,303.84 499.65,303.84" fill="none" stroke="#c8102e" stroke-width="1.2" stroke-linejoin="round"/>
<path d="M438.10,300.81 L442.40,300.81 L440.25,304.14 Z" fill="#1b4a86" stroke="#1b4a86" stroke-width="0.5" stroke-linejoin="round"/>
<path d="M497.50,300.81 L501.80,300.81 L499.65,304.14 Z" fill="#1b4a86" stroke="#1b4a86" stroke-width="0.5" stroke-linejoin="round"/>
<path d="M467.40,307.47 L472.50,307.47 L469.95,311.42 Z" fill="#fff" stroke="#265d92" stroke-width="0.9" stroke-linejoin="round"/>
<path d="M482.25,307.47 L487.35,307.47 L484.80,311.42 Z" fill="#fff" stroke="#265d92" stroke-width="0.9" stroke-linejoin="round"/>
<path d="M497.10,307.47 L502.20,307.47 L499.65,311.42 Z" fill="#fff" stroke="#265d92" stroke-width="0.9" stroke-linejoin="round"/>
<circle cx="440.25" cy="304.50" r="2.35" fill="#c8102e"/>
<circle cx="455.10" cy="304.20" r="2.35" fill="#c8102e"/>
<circle cx="469.95" cy="304.50" r="2.35" fill="#c8102e"/>
<circle cx="484.80" cy="304.32" r="2.35" fill="#c8102e"/>
<circle cx="499.65" cy="303.90" r="2.35" fill="#c8102e"/>
<line x1="429.70" y1="255.20" x2="439.00" y2="255.20" stroke="#1b4a86" stroke-width="0.9"/>
<path d="M432.75,254.04 L435.95,254.04 L434.35,256.52 Z" fill="#1b4a86" stroke="#1b4a86" stroke-width="0.5" stroke-linejoin="round"/>
<text x="442.30" y="257.55" font-size="6.7" textLength="48.50" lengthAdjust="spacingAndGlyphs">CD19/CD3 HCT</text>
<line x1="429.70" y1="266.00" x2="439.00" y2="266.00" stroke="#265d92" stroke-width="0.9"/>
<path d="M432.45,264.66 L436.25,264.66 L434.35,267.61 Z" fill="#fff" stroke="#265d92" stroke-width="0.8" stroke-linejoin="round"/>
<text x="442.30" y="268.35" font-size="6.7" textLength="47.50" lengthAdjust="spacingAndGlyphs">CD22/CD3 LCT</text>
<line x1="429.70" y1="276.90" x2="439.00" y2="276.90" stroke="#c8102e" stroke-width="0.9"/>
<circle cx="434.35" cy="276.90" r="1.9" fill="#c8102e"/>
<text x="442.30" y="279.25" font-size="6.7" textLength="68.70" lengthAdjust="spacingAndGlyphs">CD19/CD22/CD3 (CC)</text>
<line x1="29.50" y1="366.40" x2="29.50" y2="417.80" stroke="#111" stroke-width="1.3"/>
<line x1="28.90" y1="417.30" x2="139.60" y2="417.30" stroke="#1a1a1a" stroke-width="1.35"/>
<line x1="26.50" y1="417.30" x2="29.50" y2="417.30" stroke="#111" stroke-width="0.9"/>
<text x="23.00" y="419.60" font-size="6.6" text-anchor="end">0</text>
<line x1="26.50" y1="405.15" x2="29.50" y2="405.15" stroke="#111" stroke-width="0.9"/>
<text x="23.00" y="407.45" font-size="6.6" text-anchor="end">200</text>
<line x1="26.50" y1="393.00" x2="29.50" y2="393.00" stroke="#111" stroke-width="0.9"/>
<text x="23.00" y="395.30" font-size="6.6" text-anchor="end">400</text>
<line x1="26.50" y1="380.85" x2="29.50" y2="380.85" stroke="#111" stroke-width="0.9"/>
<text x="23.00" y="383.15" font-size="6.6" text-anchor="end">600</text>
<line x1="26.50" y1="368.70" x2="29.50" y2="368.70" stroke="#111" stroke-width="0.9"/>
<text x="23.00" y="371.00" font-size="6.6" text-anchor="end">800</text>
<line x1="27.70" y1="414.87" x2="29.50" y2="414.87" stroke="#111" stroke-width="0.7"/>
<line x1="27.70" y1="412.44" x2="29.50" y2="412.44" stroke="#111" stroke-width="0.7"/>
<line x1="27.70" y1="410.01" x2="29.50" y2="410.01" stroke="#111" stroke-width="0.7"/>
<line x1="27.70" y1="407.58" x2="29.50" y2="407.58" stroke="#111" stroke-width="0.7"/>
<line x1="27.70" y1="402.72" x2="29.50" y2="402.72" stroke="#111" stroke-width="0.7"/>
<line x1="27.70" y1="400.29" x2="29.50" y2="400.29" stroke="#111" stroke-width="0.7"/>
<line x1="27.70" y1="397.86" x2="29.50" y2="397.86" stroke="#111" stroke-width="0.7"/>
<line x1="27.70" y1="395.43" x2="29.50" y2="395.43" stroke="#111" stroke-width="0.7"/>
<line x1="27.70" y1="390.57" x2="29.50" y2="390.57" stroke="#111" stroke-width="0.7"/>
<line x1="27.70" y1="388.14" x2="29.50" y2="388.14" stroke="#111" stroke-width="0.7"/>
<line x1="27.70" y1="385.71" x2="29.50" y2="385.71" stroke="#111" stroke-width="0.7"/>
<line x1="27.70" y1="383.28" x2="29.50" y2="383.28" stroke="#111" stroke-width="0.7"/>
<line x1="27.70" y1="378.42" x2="29.50" y2="378.42" stroke="#111" stroke-width="0.7"/>
<line x1="27.70" y1="375.99" x2="29.50" y2="375.99" stroke="#111" stroke-width="0.7"/>
<line x1="27.70" y1="373.56" x2="29.50" y2="373.56" stroke="#111" stroke-width="0.7"/>
<line x1="27.70" y1="371.13" x2="29.50" y2="371.13" stroke="#111" stroke-width="0.7"/>
<text transform="translate(6.20 392.00) rotate(-90)" font-size="6.4" text-anchor="middle" textLength="32.20" lengthAdjust="spacingAndGlyphs">IL-2 (pg/mL)</text>
<line x1="43.60" y1="417.30" x2="43.60" y2="420.30" stroke="#111" stroke-width="0.9"/>
<line x1="71.40" y1="417.30" x2="71.40" y2="420.30" stroke="#111" stroke-width="0.9"/>
<line x1="99.20" y1="417.30" x2="99.20" y2="420.30" stroke="#111" stroke-width="0.9"/>
<line x1="127.00" y1="417.30" x2="127.00" y2="420.30" stroke="#111" stroke-width="0.9"/>
<text transform="translate(45.50 426.60) rotate(-45)" font-size="7.4" text-anchor="end" textLength="19.00" lengthAdjust="spacingAndGlyphs">Nalm6</text>
<text transform="translate(73.30 426.60) rotate(-45)" font-size="7.4" text-anchor="end" textLength="37.80" lengthAdjust="spacingAndGlyphs">Nalm6-KO19</text>
<text transform="translate(101.10 426.60) rotate(-45)" font-size="7.4" text-anchor="end" textLength="38.30" lengthAdjust="spacingAndGlyphs">Nalm6-KO22</text>
<text transform="translate(128.90 426.60) rotate(-45)" font-size="7.4" text-anchor="end" textLength="14.80" lengthAdjust="spacingAndGlyphs">K562</text>
<path d="M33.70,417.30 L33.70,398.86 Q33.70,397.56 35.00,397.56 L36.70,397.56 Q38.00,397.56 38.00,398.86 L38.00,417.30 Z" fill="#1b4a86"/>
<path d="M41.45,417.30 L41.45,411.76 Q41.45,410.46 42.75,410.46 L44.45,410.46 Q45.75,410.46 45.75,411.76 L45.75,417.30 Z" fill="#fff" stroke="#2a5283" stroke-width="0.95"/>
<path d="M49.20,417.30 L49.20,373.65 Q49.20,372.35 50.50,372.35 L52.50,372.35 Q53.80,372.35 53.80,373.65 L53.80,417.30 Z" fill="#c8102e"/>
<path d="M69.25,417.30 L69.25,415.41 Q69.25,414.11 70.55,414.11 L72.25,414.11 Q73.55,414.11 73.55,415.41 L73.55,417.30 Z" fill="#fff" stroke="#2a5283" stroke-width="0.95"/>
<path d="M77.00,417.30 L77.00,413.74 Q77.00,412.44 78.30,412.44 L80.30,412.44 Q81.60,412.44 81.60,413.74 L81.60,417.30 Z" fill="#c8102e"/>
<path d="M89.30,417.30 L89.30,405.54 Q89.30,404.24 90.60,404.24 L92.30,404.24 Q93.60,404.24 93.60,405.54 L93.60,417.30 Z" fill="#1b4a86"/>
<line x1="97.05" y1="416.40" x2="101.35" y2="416.40" stroke="#265d92" stroke-width="0.9"/>
<path d="M104.80,417.30 L104.80,395.52 Q104.80,394.22 106.10,394.22 L108.10,394.22 Q109.40,394.22 109.40,395.52 L109.40,417.30 Z" fill="#c8102e"/>
<path d="M36.00,396.00 L36.00,358.10 L51.30,358.10 L51.30,371.00" stroke="#3a3a3a" stroke-width="0.95" fill="none" />
<rect x="39.65" y="354.80" width="1.8" height="1.6" rx="0.5" fill="#2a2a2a"/>
<rect x="42.75" y="354.80" width="1.8" height="1.6" rx="0.5" fill="#2a2a2a"/>
<rect x="45.85" y="354.80" width="1.8" height="1.6" rx="0.5" fill="#2a2a2a"/>
<path d="M43.60,408.60 L43.60,364.60 L51.30,364.60 L51.30,371.00" stroke="#3a3a3a" stroke-width="0.95" fill="none" />
<rect x="43.45" y="361.30" width="1.8" height="1.6" rx="0.5" fill="#2a2a2a"/>
<rect x="46.55" y="361.30" width="1.8" height="1.6" rx="0.5" fill="#2a2a2a"/>
<rect x="49.65" y="361.30" width="1.8" height="1.6" rx="0.5" fill="#2a2a2a"/>
<path d="M63.80,415.50 L63.80,397.60 L80.50,397.60 L80.50,411.30" stroke="#3a3a3a" stroke-width="0.95" fill="none" />
<rect x="68.15" y="394.30" width="1.8" height="1.6" rx="0.5" fill="#2a2a2a"/>
<rect x="71.25" y="394.30" width="1.8" height="1.6" rx="0.5" fill="#2a2a2a"/>
<rect x="74.35" y="394.30" width="1.8" height="1.6" rx="0.5" fill="#2a2a2a"/>
<path d="M71.70,412.50 L71.70,403.00 L80.50,403.00 L80.50,411.30" stroke="#3a3a3a" stroke-width="0.95" fill="none" />
<text x="76.10" y="401.70" font-size="5.8" text-anchor="middle">ns</text>
<path d="M91.70,403.00 L91.70,377.90 L108.60,377.90 L108.60,393.00" stroke="#3a3a3a" stroke-width="0.95" fill="none" />
<rect x="96.15" y="374.60" width="1.8" height="1.6" rx="0.5" fill="#2a2a2a"/>
<rect x="99.25" y="374.60" width="1.8" height="1.6" rx="0.5" fill="#2a2a2a"/>
<rect x="102.35" y="374.60" width="1.8" height="1.6" rx="0.5" fill="#2a2a2a"/>
<path d="M99.20,415.50 L99.20,383.40 L108.60,383.40 L108.60,393.00" stroke="#3a3a3a" stroke-width="0.95" fill="none" />
<rect x="99.90" y="380.10" width="1.8" height="1.6" rx="0.5" fill="#2a2a2a"/>
<rect x="103.00" y="380.10" width="1.8" height="1.6" rx="0.5" fill="#2a2a2a"/>
<rect x="106.10" y="380.10" width="1.8" height="1.6" rx="0.5" fill="#2a2a2a"/>
<line x1="181.80" y1="366.70" x2="181.80" y2="417.80" stroke="#111" stroke-width="1.3"/>
<line x1="181.20" y1="417.30" x2="293.90" y2="417.30" stroke="#1a1a1a" stroke-width="1.35"/>
<line x1="178.80" y1="417.30" x2="181.80" y2="417.30" stroke="#111" stroke-width="0.9"/>
<text x="177.00" y="419.60" font-size="6.6" text-anchor="end">0</text>
<line x1="178.80" y1="407.72" x2="181.80" y2="407.72" stroke="#111" stroke-width="0.9"/>
<text x="177.00" y="410.02" font-size="6.6" text-anchor="end">10</text>
<line x1="178.80" y1="398.14" x2="181.80" y2="398.14" stroke="#111" stroke-width="0.9"/>
<text x="177.00" y="400.44" font-size="6.6" text-anchor="end">20</text>
<line x1="178.80" y1="388.56" x2="181.80" y2="388.56" stroke="#111" stroke-width="0.9"/>
<text x="177.00" y="390.86" font-size="6.6" text-anchor="end">30</text>
<line x1="178.80" y1="378.98" x2="181.80" y2="378.98" stroke="#111" stroke-width="0.9"/>
<text x="177.00" y="381.28" font-size="6.6" text-anchor="end">40</text>
<line x1="178.80" y1="369.40" x2="181.80" y2="369.40" stroke="#111" stroke-width="0.9"/>
<text x="177.00" y="371.70" font-size="6.6" text-anchor="end">50</text>
<line x1="180.00" y1="415.38" x2="181.80" y2="415.38" stroke="#111" stroke-width="0.7"/>
<line x1="180.00" y1="413.47" x2="181.80" y2="413.47" stroke="#111" stroke-width="0.7"/>
<line x1="180.00" y1="411.55" x2="181.80" y2="411.55" stroke="#111" stroke-width="0.7"/>
<line x1="180.00" y1="409.64" x2="181.80" y2="409.64" stroke="#111" stroke-width="0.7"/>
<line x1="180.00" y1="405.80" x2="181.80" y2="405.80" stroke="#111" stroke-width="0.7"/>
<line x1="180.00" y1="403.89" x2="181.80" y2="403.89" stroke="#111" stroke-width="0.7"/>
<line x1="180.00" y1="401.97" x2="181.80" y2="401.97" stroke="#111" stroke-width="0.7"/>
<line x1="180.00" y1="400.06" x2="181.80" y2="400.06" stroke="#111" stroke-width="0.7"/>
<line x1="180.00" y1="396.22" x2="181.80" y2="396.22" stroke="#111" stroke-width="0.7"/>
<line x1="180.00" y1="394.31" x2="181.80" y2="394.31" stroke="#111" stroke-width="0.7"/>
<line x1="180.00" y1="392.39" x2="181.80" y2="392.39" stroke="#111" stroke-width="0.7"/>
<line x1="180.00" y1="390.48" x2="181.80" y2="390.48" stroke="#111" stroke-width="0.7"/>
<line x1="180.00" y1="386.64" x2="181.80" y2="386.64" stroke="#111" stroke-width="0.7"/>
<line x1="180.00" y1="384.73" x2="181.80" y2="384.73" stroke="#111" stroke-width="0.7"/>
<line x1="180.00" y1="382.81" x2="181.80" y2="382.81" stroke="#111" stroke-width="0.7"/>
<line x1="180.00" y1="380.90" x2="181.80" y2="380.90" stroke="#111" stroke-width="0.7"/>
<line x1="180.00" y1="377.06" x2="181.80" y2="377.06" stroke="#111" stroke-width="0.7"/>
<line x1="180.00" y1="375.15" x2="181.80" y2="375.15" stroke="#111" stroke-width="0.7"/>
<line x1="180.00" y1="373.23" x2="181.80" y2="373.23" stroke="#111" stroke-width="0.7"/>
<line x1="180.00" y1="371.32" x2="181.80" y2="371.32" stroke="#111" stroke-width="0.7"/>
<text transform="translate(161.20 390.40) rotate(-90)" font-size="6.4" text-anchor="middle" textLength="41.50" lengthAdjust="spacingAndGlyphs">IFN-γ (pg/mL)</text>
<line x1="196.20" y1="417.30" x2="196.20" y2="420.30" stroke="#111" stroke-width="0.9"/>
<line x1="224.00" y1="417.30" x2="224.00" y2="420.30" stroke="#111" stroke-width="0.9"/>
<line x1="251.80" y1="417.30" x2="251.80" y2="420.30" stroke="#111" stroke-width="0.9"/>
<line x1="279.60" y1="417.30" x2="279.60" y2="420.30" stroke="#111" stroke-width="0.9"/>
<text transform="translate(198.10 426.60) rotate(-45)" font-size="7.4" text-anchor="end" textLength="19.00" lengthAdjust="spacingAndGlyphs">Nalm6</text>
<text transform="translate(225.90 426.60) rotate(-45)" font-size="7.4" text-anchor="end" textLength="37.80" lengthAdjust="spacingAndGlyphs">Nalm6-KO19</text>
<text transform="translate(253.70 426.60) rotate(-45)" font-size="7.4" text-anchor="end" textLength="38.30" lengthAdjust="spacingAndGlyphs">Nalm6-KO22</text>
<text transform="translate(281.50 426.60) rotate(-45)" font-size="7.4" text-anchor="end" textLength="14.80" lengthAdjust="spacingAndGlyphs">K562</text>
<line x1="188.45" y1="394.31" x2="188.45" y2="397.18" stroke="#1b4a86" stroke-width="0.8"/>
<line x1="186.85" y1="394.31" x2="190.05" y2="394.31" stroke="#1b4a86" stroke-width="0.8"/>
<path d="M186.30,417.30 L186.30,398.48 Q186.30,397.18 187.60,397.18 L189.30,397.18 Q190.60,397.18 190.60,398.48 L190.60,417.30 Z" fill="#1b4a86"/>
<line x1="196.20" y1="407.72" x2="196.20" y2="411.55" stroke="#265d92" stroke-width="0.8"/>
<line x1="194.60" y1="407.72" x2="197.80" y2="407.72" stroke="#265d92" stroke-width="0.8"/>
<path d="M194.05,417.30 L194.05,413.30 Q194.05,412.00 195.35,412.00 L197.05,412.00 Q198.35,412.00 198.35,413.30 L198.35,417.30 Z" fill="#fff" stroke="#2a5283" stroke-width="0.95"/>
<line x1="203.95" y1="378.69" x2="203.95" y2="379.46" stroke="#c8102e" stroke-width="0.8"/>
<line x1="202.35" y1="378.69" x2="205.55" y2="378.69" stroke="#c8102e" stroke-width="0.8"/>
<path d="M201.80,417.30 L201.80,380.76 Q201.80,379.46 203.10,379.46 L205.10,379.46 Q206.40,379.46 206.40,380.76 L206.40,417.30 Z" fill="#c8102e"/>
<line x1="224.00" y1="408.10" x2="224.00" y2="408.68" stroke="#265d92" stroke-width="0.8"/>
<line x1="222.40" y1="408.10" x2="225.60" y2="408.10" stroke="#265d92" stroke-width="0.8"/>
<path d="M221.85,417.30 L221.85,410.43 Q221.85,409.13 223.15,409.13 L224.85,409.13 Q226.15,409.13 226.15,410.43 L226.15,417.30 Z" fill="#fff" stroke="#2a5283" stroke-width="0.95"/>
<line x1="231.75" y1="403.22" x2="231.75" y2="405.32" stroke="#c8102e" stroke-width="0.8"/>
<line x1="230.15" y1="403.22" x2="233.35" y2="403.22" stroke="#c8102e" stroke-width="0.8"/>
<path d="M229.60,417.30 L229.60,406.62 Q229.60,405.32 230.90,405.32 L232.90,405.32 Q234.20,405.32 234.20,406.62 L234.20,417.30 Z" fill="#c8102e"/>
<line x1="244.05" y1="390.28" x2="244.05" y2="394.31" stroke="#1b4a86" stroke-width="0.8"/>
<line x1="242.45" y1="390.28" x2="245.65" y2="390.28" stroke="#1b4a86" stroke-width="0.8"/>
<path d="M241.90,417.30 L241.90,395.61 Q241.90,394.31 243.20,394.31 L244.90,394.31 Q246.20,394.31 246.20,395.61 L246.20,417.30 Z" fill="#1b4a86"/>
<line x1="259.55" y1="380.61" x2="259.55" y2="381.38" stroke="#c8102e" stroke-width="0.8"/>
<line x1="257.95" y1="380.61" x2="261.15" y2="380.61" stroke="#c8102e" stroke-width="0.8"/>
<path d="M257.40,417.30 L257.40,382.68 Q257.40,381.38 258.70,381.38 L260.70,381.38 Q262.00,381.38 262.00,382.68 L262.00,417.30 Z" fill="#c8102e"/>
<path d="M188.90,393.50 L188.90,364.30 L205.40,364.30 L205.40,377.80" stroke="#3a3a3a" stroke-width="0.95" fill="none" />
<rect x="193.15" y="361.00" width="1.8" height="1.6" rx="0.5" fill="#2a2a2a"/>
<rect x="196.25" y="361.00" width="1.8" height="1.6" rx="0.5" fill="#2a2a2a"/>
<rect x="199.35" y="361.00" width="1.8" height="1.6" rx="0.5" fill="#2a2a2a"/>
<path d="M196.20,406.50 L196.20,369.90 L205.40,369.90 L205.40,377.80" stroke="#3a3a3a" stroke-width="0.95" fill="none" />
<rect x="196.80" y="366.60" width="1.8" height="1.6" rx="0.5" fill="#2a2a2a"/>
<rect x="199.90" y="366.60" width="1.8" height="1.6" rx="0.5" fill="#2a2a2a"/>
<rect x="203.00" y="366.60" width="1.8" height="1.6" rx="0.5" fill="#2a2a2a"/>
<path d="M216.40,415.50 L216.40,389.20 L232.80,389.20 L232.80,402.00" stroke="#3a3a3a" stroke-width="0.95" fill="none" />
<rect x="220.60" y="385.90" width="1.8" height="1.6" rx="0.5" fill="#2a2a2a"/>
<rect x="223.70" y="385.90" width="1.8" height="1.6" rx="0.5" fill="#2a2a2a"/>
<rect x="226.80" y="385.90" width="1.8" height="1.6" rx="0.5" fill="#2a2a2a"/>
<path d="M224.00,407.50 L224.00,394.30 L232.80,394.30 L232.80,402.00" stroke="#3a3a3a" stroke-width="0.95" fill="none" />
<text x="228.40" y="393.00" font-size="5.8" text-anchor="middle">ns</text>
<path d="M244.20,389.50 L244.20,366.00 L261.40,366.00 L261.40,379.50" stroke="#3a3a3a" stroke-width="0.95" fill="none" />
<rect x="250.35" y="362.70" width="1.8" height="1.6" rx="0.5" fill="#2a2a2a"/>
<rect x="253.45" y="362.70" width="1.8" height="1.6" rx="0.5" fill="#2a2a2a"/>
<path d="M251.80,415.50 L251.80,371.60 L261.40,371.60 L261.40,379.50" stroke="#3a3a3a" stroke-width="0.95" fill="none" />
<rect x="252.60" y="368.30" width="1.8" height="1.6" rx="0.5" fill="#2a2a2a"/>
<rect x="255.70" y="368.30" width="1.8" height="1.6" rx="0.5" fill="#2a2a2a"/>
<rect x="258.80" y="368.30" width="1.8" height="1.6" rx="0.5" fill="#2a2a2a"/>
<line x1="333.60" y1="366.00" x2="333.60" y2="417.80" stroke="#111" stroke-width="1.3"/>
<line x1="333.00" y1="417.30" x2="444.70" y2="417.30" stroke="#1a1a1a" stroke-width="1.35"/>
<line x1="330.60" y1="417.30" x2="333.60" y2="417.30" stroke="#111" stroke-width="0.9"/>
<text x="327.80" y="419.60" font-size="6.6" text-anchor="end">0</text>
<line x1="330.60" y1="405.15" x2="333.60" y2="405.15" stroke="#111" stroke-width="0.9"/>
<text x="327.80" y="407.45" font-size="6.6" text-anchor="end">200</text>
<line x1="330.60" y1="393.00" x2="333.60" y2="393.00" stroke="#111" stroke-width="0.9"/>
<text x="327.80" y="395.30" font-size="6.6" text-anchor="end">400</text>
<line x1="330.60" y1="380.85" x2="333.60" y2="380.85" stroke="#111" stroke-width="0.9"/>
<text x="327.80" y="383.15" font-size="6.6" text-anchor="end">600</text>
<line x1="330.60" y1="368.70" x2="333.60" y2="368.70" stroke="#111" stroke-width="0.9"/>
<text x="327.80" y="371.00" font-size="6.6" text-anchor="end">800</text>
<line x1="331.80" y1="414.87" x2="333.60" y2="414.87" stroke="#111" stroke-width="0.7"/>
<line x1="331.80" y1="412.44" x2="333.60" y2="412.44" stroke="#111" stroke-width="0.7"/>
<line x1="331.80" y1="410.01" x2="333.60" y2="410.01" stroke="#111" stroke-width="0.7"/>
<line x1="331.80" y1="407.58" x2="333.60" y2="407.58" stroke="#111" stroke-width="0.7"/>
<line x1="331.80" y1="402.72" x2="333.60" y2="402.72" stroke="#111" stroke-width="0.7"/>
<line x1="331.80" y1="400.29" x2="333.60" y2="400.29" stroke="#111" stroke-width="0.7"/>
<line x1="331.80" y1="397.86" x2="333.60" y2="397.86" stroke="#111" stroke-width="0.7"/>
<line x1="331.80" y1="395.43" x2="333.60" y2="395.43" stroke="#111" stroke-width="0.7"/>
<line x1="331.80" y1="390.57" x2="333.60" y2="390.57" stroke="#111" stroke-width="0.7"/>
<line x1="331.80" y1="388.14" x2="333.60" y2="388.14" stroke="#111" stroke-width="0.7"/>
<line x1="331.80" y1="385.71" x2="333.60" y2="385.71" stroke="#111" stroke-width="0.7"/>
<line x1="331.80" y1="383.28" x2="333.60" y2="383.28" stroke="#111" stroke-width="0.7"/>
<line x1="331.80" y1="378.42" x2="333.60" y2="378.42" stroke="#111" stroke-width="0.7"/>
<line x1="331.80" y1="375.99" x2="333.60" y2="375.99" stroke="#111" stroke-width="0.7"/>
<line x1="331.80" y1="373.56" x2="333.60" y2="373.56" stroke="#111" stroke-width="0.7"/>
<line x1="331.80" y1="371.13" x2="333.60" y2="371.13" stroke="#111" stroke-width="0.7"/>
<text transform="translate(311.00 391.60) rotate(-90)" font-size="6.4" text-anchor="middle" textLength="40.00" lengthAdjust="spacingAndGlyphs">TNF-α (pg/mL)</text>
<line x1="348.00" y1="417.30" x2="348.00" y2="420.30" stroke="#111" stroke-width="0.9"/>
<line x1="375.80" y1="417.30" x2="375.80" y2="420.30" stroke="#111" stroke-width="0.9"/>
<line x1="403.60" y1="417.30" x2="403.60" y2="420.30" stroke="#111" stroke-width="0.9"/>
<line x1="431.40" y1="417.30" x2="431.40" y2="420.30" stroke="#111" stroke-width="0.9"/>
<text transform="translate(349.90 426.60) rotate(-45)" font-size="7.4" text-anchor="end" textLength="19.00" lengthAdjust="spacingAndGlyphs">Nalm6</text>
<text transform="translate(377.70 426.60) rotate(-45)" font-size="7.4" text-anchor="end" textLength="37.80" lengthAdjust="spacingAndGlyphs">Nalm6-KO19</text>
<text transform="translate(405.50 426.60) rotate(-45)" font-size="7.4" text-anchor="end" textLength="38.30" lengthAdjust="spacingAndGlyphs">Nalm6-KO22</text>
<text transform="translate(433.30 426.60) rotate(-45)" font-size="7.4" text-anchor="end" textLength="14.80" lengthAdjust="spacingAndGlyphs">K562</text>
<path d="M338.10,417.30 L338.10,383.37 Q338.10,382.06 339.40,382.06 L341.10,382.06 Q342.40,382.06 342.40,383.37 L342.40,417.30 Z" fill="#1b4a86"/>
<path d="M345.85,417.30 L345.85,406.60 Q345.85,405.30 347.15,405.30 L348.85,405.30 Q350.15,405.30 350.15,406.60 L350.15,417.30 Z" fill="#fff" stroke="#2a5283" stroke-width="0.95"/>
<line x1="355.75" y1="370.52" x2="355.75" y2="371.74" stroke="#c8102e" stroke-width="0.8"/>
<line x1="354.15" y1="370.52" x2="357.35" y2="370.52" stroke="#c8102e" stroke-width="0.8"/>
<path d="M353.60,417.30 L353.60,373.04 Q353.60,371.74 354.90,371.74 L356.90,371.74 Q358.20,371.74 358.20,373.04 L358.20,417.30 Z" fill="#c8102e"/>
<path d="M373.65,417.30 L373.65,411.76 Q373.65,410.46 374.95,410.46 L376.65,410.46 Q377.95,410.46 377.95,411.76 L377.95,417.30 Z" fill="#fff" stroke="#2a5283" stroke-width="0.95"/>
<path d="M381.40,417.30 L381.40,408.27 Q381.40,406.97 382.70,406.97 L384.70,406.97 Q386.00,406.97 386.00,408.27 L386.00,417.30 Z" fill="#c8102e"/>
<path d="M393.70,417.30 L393.70,396.43 Q393.70,395.13 395.00,395.13 L396.70,395.13 Q398.00,395.13 398.00,396.43 L398.00,417.30 Z" fill="#1b4a86"/>
<path d="M401.45,417.30 L401.45,416.61 Q401.45,415.93 402.14,415.93 L405.06,415.93 Q405.75,415.93 405.75,416.61 L405.75,417.30 Z" fill="#fff" stroke="#2a5283" stroke-width="0.95"/>
<path d="M409.20,417.30 L409.20,390.66 Q409.20,389.36 410.50,389.36 L412.50,389.36 Q413.80,389.36 413.80,390.66 L413.80,417.30 Z" fill="#c8102e"/>
<path d="M340.60,381.00 L340.60,355.80 L357.10,355.80 L357.10,369.00" stroke="#3a3a3a" stroke-width="0.95" fill="none" />
<rect x="344.85" y="352.50" width="1.8" height="1.6" rx="0.5" fill="#2a2a2a"/>
<rect x="347.95" y="352.50" width="1.8" height="1.6" rx="0.5" fill="#2a2a2a"/>
<rect x="351.05" y="352.50" width="1.8" height="1.6" rx="0.5" fill="#2a2a2a"/>
<path d="M348.00,403.50 L348.00,362.00 L357.10,362.00 L357.10,369.00" stroke="#3a3a3a" stroke-width="0.95" fill="none" />
<rect x="348.55" y="358.70" width="1.8" height="1.6" rx="0.5" fill="#2a2a2a"/>
<rect x="351.65" y="358.70" width="1.8" height="1.6" rx="0.5" fill="#2a2a2a"/>
<rect x="354.75" y="358.70" width="1.8" height="1.6" rx="0.5" fill="#2a2a2a"/>
<path d="M368.20,415.50 L368.20,392.50 L384.60,392.50 L384.60,405.50" stroke="#3a3a3a" stroke-width="0.95" fill="none" />
<rect x="372.40" y="389.20" width="1.8" height="1.6" rx="0.5" fill="#2a2a2a"/>
<rect x="375.50" y="389.20" width="1.8" height="1.6" rx="0.5" fill="#2a2a2a"/>
<rect x="378.60" y="389.20" width="1.8" height="1.6" rx="0.5" fill="#2a2a2a"/>
<path d="M376.00,409.00 L376.00,398.60 L384.60,398.60 L384.60,405.50" stroke="#3a3a3a" stroke-width="0.95" fill="none" />
<text x="380.30" y="397.30" font-size="5.8" text-anchor="middle">ns</text>
<path d="M396.00,394.00 L396.00,374.10 L412.60,374.10 L412.60,388.00" stroke="#3a3a3a" stroke-width="0.95" fill="none" />
<rect x="400.30" y="370.80" width="1.8" height="1.6" rx="0.5" fill="#2a2a2a"/>
<rect x="403.40" y="370.80" width="1.8" height="1.6" rx="0.5" fill="#2a2a2a"/>
<rect x="406.50" y="370.80" width="1.8" height="1.6" rx="0.5" fill="#2a2a2a"/>
<path d="M402.50,414.50 L402.50,379.10 L412.60,379.10 L412.60,388.00" stroke="#3a3a3a" stroke-width="0.95" fill="none" />
<rect x="403.55" y="375.80" width="1.8" height="1.6" rx="0.5" fill="#2a2a2a"/>
<rect x="406.65" y="375.80" width="1.8" height="1.6" rx="0.5" fill="#2a2a2a"/>
<rect x="409.75" y="375.80" width="1.8" height="1.6" rx="0.5" fill="#2a2a2a"/>
<rect x="425.7" y="377.00" width="4.6" height="4.6" fill="#163f72"/>
<text x="433.80" y="381.60" font-size="6.7" textLength="49.00" lengthAdjust="spacingAndGlyphs">CD19/CD3 HCT</text>
<rect x="426.0" y="387.80" width="4" height="4" fill="#fff" stroke="#2a4a72" stroke-width="1"/>
<text x="433.80" y="392.10" font-size="6.7" textLength="48.00" lengthAdjust="spacingAndGlyphs">CD22/CD3 LCT</text>
<rect x="425.7" y="398.00" width="4.6" height="4.6" fill="#c8102e"/>
<text x="433.80" y="402.60" font-size="6.7" textLength="68.80" lengthAdjust="spacingAndGlyphs">CD19/CD22/CD3 (CC)</text>
</svg>
</body></html>
